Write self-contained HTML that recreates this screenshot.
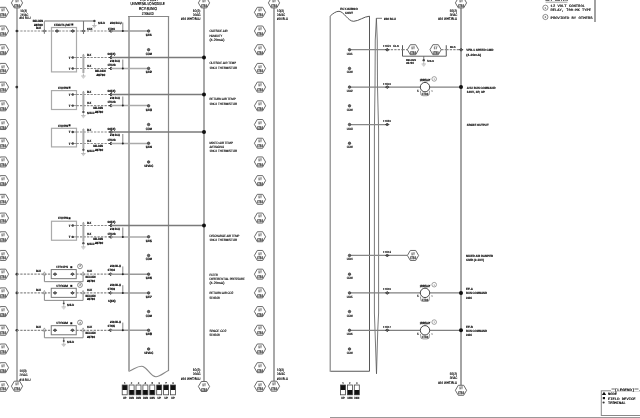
<!DOCTYPE html>
<html><head><meta charset="utf-8"><style>
html,body{margin:0;padding:0;background:#fff;width:640px;height:418px;overflow:hidden}
svg{display:block;will-change:transform} text{text-rendering:geometricPrecision}

</style></head><body>
<svg width="640" height="418" viewBox="0 0 640 418" font-family="Liberation Sans, sans-serif">
<rect width="640" height="418" fill="#fff"/>
<polygon points="-2.60,12.30 0.30,7.30 5.70,7.30 8.60,12.30 5.70,17.30 0.30,17.30 -2.60,12.30" stroke="#5a5a5a" stroke-width="0.9" fill="#fff"/>
<text x="3.00" y="11.40" font-size="3.4" font-weight="bold" fill="#777" stroke="#777" stroke-width="0.3" text-anchor="middle" textLength="3.60" lengthAdjust="spacingAndGlyphs">1T</text>
<text x="3.00" y="16.30" font-size="3.6" font-weight="bold" fill="#444" stroke="#444" stroke-width="0.25" text-anchor="middle" textLength="6.20" lengthAdjust="spacingAndGlyphs">1TB3</text>
<polygon points="254.40,12.30 257.30,7.30 262.70,7.30 265.60,12.30 262.70,17.30 257.30,17.30 254.40,12.30" stroke="#5a5a5a" stroke-width="0.9" fill="#fff"/>
<text x="260.00" y="11.40" font-size="3.4" font-weight="bold" fill="#777" stroke="#777" stroke-width="0.3" text-anchor="middle" textLength="3.60" lengthAdjust="spacingAndGlyphs">1T</text>
<text x="260.00" y="16.30" font-size="3.6" font-weight="bold" fill="#444" stroke="#444" stroke-width="0.25" text-anchor="middle" textLength="6.20" lengthAdjust="spacingAndGlyphs">1TB3</text>
<polygon points="-2.60,31.00 0.30,26.00 5.70,26.00 8.60,31.00 5.70,36.00 0.30,36.00 -2.60,31.00" stroke="#5a5a5a" stroke-width="0.9" fill="#fff"/>
<text x="3.00" y="30.11" font-size="3.4" font-weight="bold" fill="#777" stroke="#777" stroke-width="0.3" text-anchor="middle" textLength="3.60" lengthAdjust="spacingAndGlyphs">1T</text>
<text x="3.00" y="35.00" font-size="3.6" font-weight="bold" fill="#444" stroke="#444" stroke-width="0.25" text-anchor="middle" textLength="6.20" lengthAdjust="spacingAndGlyphs">1TB3</text>
<polygon points="254.40,31.00 257.30,26.00 262.70,26.00 265.60,31.00 262.70,36.00 257.30,36.00 254.40,31.00" stroke="#5a5a5a" stroke-width="0.9" fill="#fff"/>
<text x="260.00" y="30.11" font-size="3.4" font-weight="bold" fill="#777" stroke="#777" stroke-width="0.3" text-anchor="middle" textLength="3.60" lengthAdjust="spacingAndGlyphs">1T</text>
<text x="260.00" y="35.00" font-size="3.6" font-weight="bold" fill="#444" stroke="#444" stroke-width="0.25" text-anchor="middle" textLength="6.20" lengthAdjust="spacingAndGlyphs">1TB3</text>
<polygon points="-2.60,49.71 0.30,44.71 5.70,44.71 8.60,49.71 5.70,54.71 0.30,54.71 -2.60,49.71" stroke="#5a5a5a" stroke-width="0.9" fill="#fff"/>
<text x="3.00" y="48.81" font-size="3.4" font-weight="bold" fill="#777" stroke="#777" stroke-width="0.3" text-anchor="middle" textLength="3.60" lengthAdjust="spacingAndGlyphs">1T</text>
<text x="3.00" y="53.71" font-size="3.6" font-weight="bold" fill="#444" stroke="#444" stroke-width="0.25" text-anchor="middle" textLength="6.20" lengthAdjust="spacingAndGlyphs">1TB3</text>
<polygon points="254.40,49.71 257.30,44.71 262.70,44.71 265.60,49.71 262.70,54.71 257.30,54.71 254.40,49.71" stroke="#5a5a5a" stroke-width="0.9" fill="#fff"/>
<text x="260.00" y="48.81" font-size="3.4" font-weight="bold" fill="#777" stroke="#777" stroke-width="0.3" text-anchor="middle" textLength="3.60" lengthAdjust="spacingAndGlyphs">1T</text>
<text x="260.00" y="53.71" font-size="3.6" font-weight="bold" fill="#444" stroke="#444" stroke-width="0.25" text-anchor="middle" textLength="6.20" lengthAdjust="spacingAndGlyphs">1TB3</text>
<polygon points="-2.60,68.41 0.30,63.41 5.70,63.41 8.60,68.41 5.70,73.41 0.30,73.41 -2.60,68.41" stroke="#5a5a5a" stroke-width="0.9" fill="#fff"/>
<text x="3.00" y="67.51" font-size="3.4" font-weight="bold" fill="#777" stroke="#777" stroke-width="0.3" text-anchor="middle" textLength="3.60" lengthAdjust="spacingAndGlyphs">1T</text>
<text x="3.00" y="72.41" font-size="3.6" font-weight="bold" fill="#444" stroke="#444" stroke-width="0.25" text-anchor="middle" textLength="6.20" lengthAdjust="spacingAndGlyphs">1TB3</text>
<polygon points="254.40,68.41 257.30,63.41 262.70,63.41 265.60,68.41 262.70,73.41 257.30,73.41 254.40,68.41" stroke="#5a5a5a" stroke-width="0.9" fill="#fff"/>
<text x="260.00" y="67.51" font-size="3.4" font-weight="bold" fill="#777" stroke="#777" stroke-width="0.3" text-anchor="middle" textLength="3.60" lengthAdjust="spacingAndGlyphs">1T</text>
<text x="260.00" y="72.41" font-size="3.6" font-weight="bold" fill="#444" stroke="#444" stroke-width="0.25" text-anchor="middle" textLength="6.20" lengthAdjust="spacingAndGlyphs">1TB3</text>
<polygon points="-2.60,87.12 0.30,82.12 5.70,82.12 8.60,87.12 5.70,92.12 0.30,92.12 -2.60,87.12" stroke="#5a5a5a" stroke-width="0.9" fill="#fff"/>
<text x="3.00" y="86.22" font-size="3.4" font-weight="bold" fill="#777" stroke="#777" stroke-width="0.3" text-anchor="middle" textLength="3.60" lengthAdjust="spacingAndGlyphs">1T</text>
<text x="3.00" y="91.12" font-size="3.6" font-weight="bold" fill="#444" stroke="#444" stroke-width="0.25" text-anchor="middle" textLength="6.20" lengthAdjust="spacingAndGlyphs">1TB3</text>
<polygon points="254.40,87.12 257.30,82.12 262.70,82.12 265.60,87.12 262.70,92.12 257.30,92.12 254.40,87.12" stroke="#5a5a5a" stroke-width="0.9" fill="#fff"/>
<text x="260.00" y="86.22" font-size="3.4" font-weight="bold" fill="#777" stroke="#777" stroke-width="0.3" text-anchor="middle" textLength="3.60" lengthAdjust="spacingAndGlyphs">1T</text>
<text x="260.00" y="91.12" font-size="3.6" font-weight="bold" fill="#444" stroke="#444" stroke-width="0.25" text-anchor="middle" textLength="6.20" lengthAdjust="spacingAndGlyphs">1TB3</text>
<polygon points="-2.60,105.82 0.30,100.82 5.70,100.82 8.60,105.82 5.70,110.82 0.30,110.82 -2.60,105.82" stroke="#5a5a5a" stroke-width="0.9" fill="#fff"/>
<text x="3.00" y="104.92" font-size="3.4" font-weight="bold" fill="#777" stroke="#777" stroke-width="0.3" text-anchor="middle" textLength="3.60" lengthAdjust="spacingAndGlyphs">1T</text>
<text x="3.00" y="109.82" font-size="3.6" font-weight="bold" fill="#444" stroke="#444" stroke-width="0.25" text-anchor="middle" textLength="6.20" lengthAdjust="spacingAndGlyphs">1TB3</text>
<polygon points="254.40,105.82 257.30,100.82 262.70,100.82 265.60,105.82 262.70,110.82 257.30,110.82 254.40,105.82" stroke="#5a5a5a" stroke-width="0.9" fill="#fff"/>
<text x="260.00" y="104.92" font-size="3.4" font-weight="bold" fill="#777" stroke="#777" stroke-width="0.3" text-anchor="middle" textLength="3.60" lengthAdjust="spacingAndGlyphs">1T</text>
<text x="260.00" y="109.82" font-size="3.6" font-weight="bold" fill="#444" stroke="#444" stroke-width="0.25" text-anchor="middle" textLength="6.20" lengthAdjust="spacingAndGlyphs">1TB3</text>
<polygon points="-2.60,124.53 0.30,119.53 5.70,119.53 8.60,124.53 5.70,129.53 0.30,129.53 -2.60,124.53" stroke="#5a5a5a" stroke-width="0.9" fill="#fff"/>
<text x="3.00" y="123.63" font-size="3.4" font-weight="bold" fill="#777" stroke="#777" stroke-width="0.3" text-anchor="middle" textLength="3.60" lengthAdjust="spacingAndGlyphs">1T</text>
<text x="3.00" y="128.53" font-size="3.6" font-weight="bold" fill="#444" stroke="#444" stroke-width="0.25" text-anchor="middle" textLength="6.20" lengthAdjust="spacingAndGlyphs">1TB3</text>
<polygon points="254.40,124.53 257.30,119.53 262.70,119.53 265.60,124.53 262.70,129.53 257.30,129.53 254.40,124.53" stroke="#5a5a5a" stroke-width="0.9" fill="#fff"/>
<text x="260.00" y="123.63" font-size="3.4" font-weight="bold" fill="#777" stroke="#777" stroke-width="0.3" text-anchor="middle" textLength="3.60" lengthAdjust="spacingAndGlyphs">1T</text>
<text x="260.00" y="128.53" font-size="3.6" font-weight="bold" fill="#444" stroke="#444" stroke-width="0.25" text-anchor="middle" textLength="6.20" lengthAdjust="spacingAndGlyphs">1TB3</text>
<polygon points="-2.60,143.24 0.30,138.24 5.70,138.24 8.60,143.24 5.70,148.24 0.30,148.24 -2.60,143.24" stroke="#5a5a5a" stroke-width="0.9" fill="#fff"/>
<text x="3.00" y="142.34" font-size="3.4" font-weight="bold" fill="#777" stroke="#777" stroke-width="0.3" text-anchor="middle" textLength="3.60" lengthAdjust="spacingAndGlyphs">1T</text>
<text x="3.00" y="147.24" font-size="3.6" font-weight="bold" fill="#444" stroke="#444" stroke-width="0.25" text-anchor="middle" textLength="6.20" lengthAdjust="spacingAndGlyphs">1TB3</text>
<polygon points="254.40,143.24 257.30,138.24 262.70,138.24 265.60,143.24 262.70,148.24 257.30,148.24 254.40,143.24" stroke="#5a5a5a" stroke-width="0.9" fill="#fff"/>
<text x="260.00" y="142.34" font-size="3.4" font-weight="bold" fill="#777" stroke="#777" stroke-width="0.3" text-anchor="middle" textLength="3.60" lengthAdjust="spacingAndGlyphs">1T</text>
<text x="260.00" y="147.24" font-size="3.6" font-weight="bold" fill="#444" stroke="#444" stroke-width="0.25" text-anchor="middle" textLength="6.20" lengthAdjust="spacingAndGlyphs">1TB3</text>
<polygon points="-2.60,161.94 0.30,156.94 5.70,156.94 8.60,161.94 5.70,166.94 0.30,166.94 -2.60,161.94" stroke="#5a5a5a" stroke-width="0.9" fill="#fff"/>
<text x="3.00" y="161.04" font-size="3.4" font-weight="bold" fill="#777" stroke="#777" stroke-width="0.3" text-anchor="middle" textLength="3.60" lengthAdjust="spacingAndGlyphs">1T</text>
<text x="3.00" y="165.94" font-size="3.6" font-weight="bold" fill="#444" stroke="#444" stroke-width="0.25" text-anchor="middle" textLength="6.20" lengthAdjust="spacingAndGlyphs">1TB3</text>
<polygon points="254.40,161.94 257.30,156.94 262.70,156.94 265.60,161.94 262.70,166.94 257.30,166.94 254.40,161.94" stroke="#5a5a5a" stroke-width="0.9" fill="#fff"/>
<text x="260.00" y="161.04" font-size="3.4" font-weight="bold" fill="#777" stroke="#777" stroke-width="0.3" text-anchor="middle" textLength="3.60" lengthAdjust="spacingAndGlyphs">1T</text>
<text x="260.00" y="165.94" font-size="3.6" font-weight="bold" fill="#444" stroke="#444" stroke-width="0.25" text-anchor="middle" textLength="6.20" lengthAdjust="spacingAndGlyphs">1TB3</text>
<polygon points="-2.60,180.64 0.30,175.64 5.70,175.64 8.60,180.64 5.70,185.64 0.30,185.64 -2.60,180.64" stroke="#5a5a5a" stroke-width="0.9" fill="#fff"/>
<text x="3.00" y="179.74" font-size="3.4" font-weight="bold" fill="#777" stroke="#777" stroke-width="0.3" text-anchor="middle" textLength="3.60" lengthAdjust="spacingAndGlyphs">1T</text>
<text x="3.00" y="184.64" font-size="3.6" font-weight="bold" fill="#444" stroke="#444" stroke-width="0.25" text-anchor="middle" textLength="6.20" lengthAdjust="spacingAndGlyphs">1TB3</text>
<polygon points="254.40,180.64 257.30,175.64 262.70,175.64 265.60,180.64 262.70,185.64 257.30,185.64 254.40,180.64" stroke="#5a5a5a" stroke-width="0.9" fill="#fff"/>
<text x="260.00" y="179.74" font-size="3.4" font-weight="bold" fill="#777" stroke="#777" stroke-width="0.3" text-anchor="middle" textLength="3.60" lengthAdjust="spacingAndGlyphs">1T</text>
<text x="260.00" y="184.64" font-size="3.6" font-weight="bold" fill="#444" stroke="#444" stroke-width="0.25" text-anchor="middle" textLength="6.20" lengthAdjust="spacingAndGlyphs">1TB3</text>
<polygon points="-2.60,199.35 0.30,194.35 5.70,194.35 8.60,199.35 5.70,204.35 0.30,204.35 -2.60,199.35" stroke="#5a5a5a" stroke-width="0.9" fill="#fff"/>
<text x="3.00" y="198.45" font-size="3.4" font-weight="bold" fill="#777" stroke="#777" stroke-width="0.3" text-anchor="middle" textLength="3.60" lengthAdjust="spacingAndGlyphs">1T</text>
<text x="3.00" y="203.35" font-size="3.6" font-weight="bold" fill="#444" stroke="#444" stroke-width="0.25" text-anchor="middle" textLength="6.20" lengthAdjust="spacingAndGlyphs">1TB3</text>
<polygon points="254.40,199.35 257.30,194.35 262.70,194.35 265.60,199.35 262.70,204.35 257.30,204.35 254.40,199.35" stroke="#5a5a5a" stroke-width="0.9" fill="#fff"/>
<text x="260.00" y="198.45" font-size="3.4" font-weight="bold" fill="#777" stroke="#777" stroke-width="0.3" text-anchor="middle" textLength="3.60" lengthAdjust="spacingAndGlyphs">1T</text>
<text x="260.00" y="203.35" font-size="3.6" font-weight="bold" fill="#444" stroke="#444" stroke-width="0.25" text-anchor="middle" textLength="6.20" lengthAdjust="spacingAndGlyphs">1TB3</text>
<polygon points="-2.60,218.06 0.30,213.06 5.70,213.06 8.60,218.06 5.70,223.06 0.30,223.06 -2.60,218.06" stroke="#5a5a5a" stroke-width="0.9" fill="#fff"/>
<text x="3.00" y="217.16" font-size="3.4" font-weight="bold" fill="#777" stroke="#777" stroke-width="0.3" text-anchor="middle" textLength="3.60" lengthAdjust="spacingAndGlyphs">1T</text>
<text x="3.00" y="222.06" font-size="3.6" font-weight="bold" fill="#444" stroke="#444" stroke-width="0.25" text-anchor="middle" textLength="6.20" lengthAdjust="spacingAndGlyphs">1TB3</text>
<polygon points="254.40,218.06 257.30,213.06 262.70,213.06 265.60,218.06 262.70,223.06 257.30,223.06 254.40,218.06" stroke="#5a5a5a" stroke-width="0.9" fill="#fff"/>
<text x="260.00" y="217.16" font-size="3.4" font-weight="bold" fill="#777" stroke="#777" stroke-width="0.3" text-anchor="middle" textLength="3.60" lengthAdjust="spacingAndGlyphs">1T</text>
<text x="260.00" y="222.06" font-size="3.6" font-weight="bold" fill="#444" stroke="#444" stroke-width="0.25" text-anchor="middle" textLength="6.20" lengthAdjust="spacingAndGlyphs">1TB3</text>
<polygon points="-2.60,236.76 0.30,231.76 5.70,231.76 8.60,236.76 5.70,241.76 0.30,241.76 -2.60,236.76" stroke="#5a5a5a" stroke-width="0.9" fill="#fff"/>
<text x="3.00" y="235.86" font-size="3.4" font-weight="bold" fill="#777" stroke="#777" stroke-width="0.3" text-anchor="middle" textLength="3.60" lengthAdjust="spacingAndGlyphs">1T</text>
<text x="3.00" y="240.76" font-size="3.6" font-weight="bold" fill="#444" stroke="#444" stroke-width="0.25" text-anchor="middle" textLength="6.20" lengthAdjust="spacingAndGlyphs">1TB3</text>
<polygon points="254.40,236.76 257.30,231.76 262.70,231.76 265.60,236.76 262.70,241.76 257.30,241.76 254.40,236.76" stroke="#5a5a5a" stroke-width="0.9" fill="#fff"/>
<text x="260.00" y="235.86" font-size="3.4" font-weight="bold" fill="#777" stroke="#777" stroke-width="0.3" text-anchor="middle" textLength="3.60" lengthAdjust="spacingAndGlyphs">1T</text>
<text x="260.00" y="240.76" font-size="3.6" font-weight="bold" fill="#444" stroke="#444" stroke-width="0.25" text-anchor="middle" textLength="6.20" lengthAdjust="spacingAndGlyphs">1TB3</text>
<polygon points="-2.60,255.46 0.30,250.46 5.70,250.46 8.60,255.46 5.70,260.46 0.30,260.46 -2.60,255.46" stroke="#5a5a5a" stroke-width="0.9" fill="#fff"/>
<text x="3.00" y="254.56" font-size="3.4" font-weight="bold" fill="#777" stroke="#777" stroke-width="0.3" text-anchor="middle" textLength="3.60" lengthAdjust="spacingAndGlyphs">1T</text>
<text x="3.00" y="259.46" font-size="3.6" font-weight="bold" fill="#444" stroke="#444" stroke-width="0.25" text-anchor="middle" textLength="6.20" lengthAdjust="spacingAndGlyphs">1TB3</text>
<polygon points="254.40,255.46 257.30,250.46 262.70,250.46 265.60,255.46 262.70,260.46 257.30,260.46 254.40,255.46" stroke="#5a5a5a" stroke-width="0.9" fill="#fff"/>
<text x="260.00" y="254.56" font-size="3.4" font-weight="bold" fill="#777" stroke="#777" stroke-width="0.3" text-anchor="middle" textLength="3.60" lengthAdjust="spacingAndGlyphs">1T</text>
<text x="260.00" y="259.46" font-size="3.6" font-weight="bold" fill="#444" stroke="#444" stroke-width="0.25" text-anchor="middle" textLength="6.20" lengthAdjust="spacingAndGlyphs">1TB3</text>
<polygon points="-2.60,274.17 0.30,269.17 5.70,269.17 8.60,274.17 5.70,279.17 0.30,279.17 -2.60,274.17" stroke="#5a5a5a" stroke-width="0.9" fill="#fff"/>
<text x="3.00" y="273.27" font-size="3.4" font-weight="bold" fill="#777" stroke="#777" stroke-width="0.3" text-anchor="middle" textLength="3.60" lengthAdjust="spacingAndGlyphs">1T</text>
<text x="3.00" y="278.17" font-size="3.6" font-weight="bold" fill="#444" stroke="#444" stroke-width="0.25" text-anchor="middle" textLength="6.20" lengthAdjust="spacingAndGlyphs">1TB3</text>
<polygon points="254.40,274.17 257.30,269.17 262.70,269.17 265.60,274.17 262.70,279.17 257.30,279.17 254.40,274.17" stroke="#5a5a5a" stroke-width="0.9" fill="#fff"/>
<text x="260.00" y="273.27" font-size="3.4" font-weight="bold" fill="#777" stroke="#777" stroke-width="0.3" text-anchor="middle" textLength="3.60" lengthAdjust="spacingAndGlyphs">1T</text>
<text x="260.00" y="278.17" font-size="3.6" font-weight="bold" fill="#444" stroke="#444" stroke-width="0.25" text-anchor="middle" textLength="6.20" lengthAdjust="spacingAndGlyphs">1TB3</text>
<polygon points="-2.60,292.88 0.30,287.88 5.70,287.88 8.60,292.88 5.70,297.88 0.30,297.88 -2.60,292.88" stroke="#5a5a5a" stroke-width="0.9" fill="#fff"/>
<text x="3.00" y="291.98" font-size="3.4" font-weight="bold" fill="#777" stroke="#777" stroke-width="0.3" text-anchor="middle" textLength="3.60" lengthAdjust="spacingAndGlyphs">1T</text>
<text x="3.00" y="296.88" font-size="3.6" font-weight="bold" fill="#444" stroke="#444" stroke-width="0.25" text-anchor="middle" textLength="6.20" lengthAdjust="spacingAndGlyphs">1TB3</text>
<polygon points="254.40,292.88 257.30,287.88 262.70,287.88 265.60,292.88 262.70,297.88 257.30,297.88 254.40,292.88" stroke="#5a5a5a" stroke-width="0.9" fill="#fff"/>
<text x="260.00" y="291.98" font-size="3.4" font-weight="bold" fill="#777" stroke="#777" stroke-width="0.3" text-anchor="middle" textLength="3.60" lengthAdjust="spacingAndGlyphs">1T</text>
<text x="260.00" y="296.88" font-size="3.6" font-weight="bold" fill="#444" stroke="#444" stroke-width="0.25" text-anchor="middle" textLength="6.20" lengthAdjust="spacingAndGlyphs">1TB3</text>
<polygon points="-2.60,311.58 0.30,306.58 5.70,306.58 8.60,311.58 5.70,316.58 0.30,316.58 -2.60,311.58" stroke="#5a5a5a" stroke-width="0.9" fill="#fff"/>
<text x="3.00" y="310.68" font-size="3.4" font-weight="bold" fill="#777" stroke="#777" stroke-width="0.3" text-anchor="middle" textLength="3.60" lengthAdjust="spacingAndGlyphs">1T</text>
<text x="3.00" y="315.58" font-size="3.6" font-weight="bold" fill="#444" stroke="#444" stroke-width="0.25" text-anchor="middle" textLength="6.20" lengthAdjust="spacingAndGlyphs">1TB3</text>
<polygon points="254.40,311.58 257.30,306.58 262.70,306.58 265.60,311.58 262.70,316.58 257.30,316.58 254.40,311.58" stroke="#5a5a5a" stroke-width="0.9" fill="#fff"/>
<text x="260.00" y="310.68" font-size="3.4" font-weight="bold" fill="#777" stroke="#777" stroke-width="0.3" text-anchor="middle" textLength="3.60" lengthAdjust="spacingAndGlyphs">1T</text>
<text x="260.00" y="315.58" font-size="3.6" font-weight="bold" fill="#444" stroke="#444" stroke-width="0.25" text-anchor="middle" textLength="6.20" lengthAdjust="spacingAndGlyphs">1TB3</text>
<polygon points="-2.60,330.28 0.30,325.28 5.70,325.28 8.60,330.28 5.70,335.28 0.30,335.28 -2.60,330.28" stroke="#5a5a5a" stroke-width="0.9" fill="#fff"/>
<text x="3.00" y="329.38" font-size="3.4" font-weight="bold" fill="#777" stroke="#777" stroke-width="0.3" text-anchor="middle" textLength="3.60" lengthAdjust="spacingAndGlyphs">1T</text>
<text x="3.00" y="334.28" font-size="3.6" font-weight="bold" fill="#444" stroke="#444" stroke-width="0.25" text-anchor="middle" textLength="6.20" lengthAdjust="spacingAndGlyphs">1TB3</text>
<polygon points="254.40,330.28 257.30,325.28 262.70,325.28 265.60,330.28 262.70,335.28 257.30,335.28 254.40,330.28" stroke="#5a5a5a" stroke-width="0.9" fill="#fff"/>
<text x="260.00" y="329.38" font-size="3.4" font-weight="bold" fill="#777" stroke="#777" stroke-width="0.3" text-anchor="middle" textLength="3.60" lengthAdjust="spacingAndGlyphs">1T</text>
<text x="260.00" y="334.28" font-size="3.6" font-weight="bold" fill="#444" stroke="#444" stroke-width="0.25" text-anchor="middle" textLength="6.20" lengthAdjust="spacingAndGlyphs">1TB3</text>
<polygon points="-2.60,348.99 0.30,343.99 5.70,343.99 8.60,348.99 5.70,353.99 0.30,353.99 -2.60,348.99" stroke="#5a5a5a" stroke-width="0.9" fill="#fff"/>
<text x="3.00" y="348.09" font-size="3.4" font-weight="bold" fill="#777" stroke="#777" stroke-width="0.3" text-anchor="middle" textLength="3.60" lengthAdjust="spacingAndGlyphs">1T</text>
<text x="3.00" y="352.99" font-size="3.6" font-weight="bold" fill="#444" stroke="#444" stroke-width="0.25" text-anchor="middle" textLength="6.20" lengthAdjust="spacingAndGlyphs">1TB3</text>
<polygon points="254.40,348.99 257.30,343.99 262.70,343.99 265.60,348.99 262.70,353.99 257.30,353.99 254.40,348.99" stroke="#5a5a5a" stroke-width="0.9" fill="#fff"/>
<text x="260.00" y="348.09" font-size="3.4" font-weight="bold" fill="#777" stroke="#777" stroke-width="0.3" text-anchor="middle" textLength="3.60" lengthAdjust="spacingAndGlyphs">1T</text>
<text x="260.00" y="352.99" font-size="3.6" font-weight="bold" fill="#444" stroke="#444" stroke-width="0.25" text-anchor="middle" textLength="6.20" lengthAdjust="spacingAndGlyphs">1TB3</text>
<polygon points="-2.60,367.69 0.30,362.69 5.70,362.69 8.60,367.69 5.70,372.69 0.30,372.69 -2.60,367.69" stroke="#5a5a5a" stroke-width="0.9" fill="#fff"/>
<text x="3.00" y="366.80" font-size="3.4" font-weight="bold" fill="#777" stroke="#777" stroke-width="0.3" text-anchor="middle" textLength="3.60" lengthAdjust="spacingAndGlyphs">1T</text>
<text x="3.00" y="371.69" font-size="3.6" font-weight="bold" fill="#444" stroke="#444" stroke-width="0.25" text-anchor="middle" textLength="6.20" lengthAdjust="spacingAndGlyphs">1TB3</text>
<polygon points="254.40,367.69 257.30,362.69 262.70,362.69 265.60,367.69 262.70,372.69 257.30,372.69 254.40,367.69" stroke="#5a5a5a" stroke-width="0.9" fill="#fff"/>
<text x="260.00" y="366.80" font-size="3.4" font-weight="bold" fill="#777" stroke="#777" stroke-width="0.3" text-anchor="middle" textLength="3.60" lengthAdjust="spacingAndGlyphs">1T</text>
<text x="260.00" y="371.69" font-size="3.6" font-weight="bold" fill="#444" stroke="#444" stroke-width="0.25" text-anchor="middle" textLength="6.20" lengthAdjust="spacingAndGlyphs">1TB3</text>
<polygon points="-2.60,386.40 0.30,381.40 5.70,381.40 8.60,386.40 5.70,391.40 0.30,391.40 -2.60,386.40" stroke="#5a5a5a" stroke-width="0.9" fill="#fff"/>
<text x="3.00" y="385.50" font-size="3.4" font-weight="bold" fill="#777" stroke="#777" stroke-width="0.3" text-anchor="middle" textLength="3.60" lengthAdjust="spacingAndGlyphs">1T</text>
<text x="3.00" y="390.40" font-size="3.6" font-weight="bold" fill="#444" stroke="#444" stroke-width="0.25" text-anchor="middle" textLength="6.20" lengthAdjust="spacingAndGlyphs">1TB3</text>
<polygon points="254.40,386.40 257.30,381.40 262.70,381.40 265.60,386.40 262.70,391.40 257.30,391.40 254.40,386.40" stroke="#5a5a5a" stroke-width="0.9" fill="#fff"/>
<text x="260.00" y="385.50" font-size="3.4" font-weight="bold" fill="#777" stroke="#777" stroke-width="0.3" text-anchor="middle" textLength="3.60" lengthAdjust="spacingAndGlyphs">1T</text>
<text x="260.00" y="390.40" font-size="3.6" font-weight="bold" fill="#444" stroke="#444" stroke-width="0.25" text-anchor="middle" textLength="6.20" lengthAdjust="spacingAndGlyphs">1TB3</text>
<line x1="17.00" y1="8.00" x2="17.00" y2="381.20" stroke="#b0b0b0" stroke-width="2.0"/>
<polygon points="11.40,2.90 14.30,-2.10 19.70,-2.10 22.60,2.90 19.70,7.90 14.30,7.90 11.40,2.90" stroke="#5a5a5a" stroke-width="0.9" fill="#fff"/>
<text x="17.00" y="2.00" font-size="3.4" font-weight="bold" fill="#777" stroke="#777" stroke-width="0.3" text-anchor="middle" textLength="3.60" lengthAdjust="spacingAndGlyphs">1T</text>
<text x="17.00" y="6.90" font-size="3.6" font-weight="bold" fill="#444" stroke="#444" stroke-width="0.25" text-anchor="middle" textLength="6.20" lengthAdjust="spacingAndGlyphs">1TB3</text>
<polygon points="11.40,386.20 14.30,381.20 19.70,381.20 22.60,386.20 19.70,391.20 14.30,391.20 11.40,386.20" stroke="#5a5a5a" stroke-width="0.9" fill="#fff"/>
<text x="17.00" y="385.30" font-size="3.4" font-weight="bold" fill="#777" stroke="#777" stroke-width="0.3" text-anchor="middle" textLength="3.60" lengthAdjust="spacingAndGlyphs">1T</text>
<text x="17.00" y="390.20" font-size="3.6" font-weight="bold" fill="#444" stroke="#444" stroke-width="0.25" text-anchor="middle" textLength="6.20" lengthAdjust="spacingAndGlyphs">1TB3</text>
<line x1="204.00" y1="8.00" x2="204.00" y2="381.50" stroke="#a8a8a8" stroke-width="2.0"/>
<polygon points="198.40,2.90 201.30,-2.10 206.70,-2.10 209.60,2.90 206.70,7.90 201.30,7.90 198.40,2.90" stroke="#5a5a5a" stroke-width="0.9" fill="#fff"/>
<text x="204.00" y="2.00" font-size="3.4" font-weight="bold" fill="#777" stroke="#777" stroke-width="0.3" text-anchor="middle" textLength="3.60" lengthAdjust="spacingAndGlyphs">1T</text>
<text x="204.00" y="6.90" font-size="3.6" font-weight="bold" fill="#444" stroke="#444" stroke-width="0.25" text-anchor="middle" textLength="6.20" lengthAdjust="spacingAndGlyphs">1TB3</text>
<polygon points="198.40,386.50 201.30,381.50 206.70,381.50 209.60,386.50 206.70,391.50 201.30,391.50 198.40,386.50" stroke="#5a5a5a" stroke-width="0.9" fill="#fff"/>
<text x="204.00" y="385.60" font-size="3.4" font-weight="bold" fill="#777" stroke="#777" stroke-width="0.3" text-anchor="middle" textLength="3.60" lengthAdjust="spacingAndGlyphs">1T</text>
<text x="204.00" y="390.50" font-size="3.6" font-weight="bold" fill="#444" stroke="#444" stroke-width="0.25" text-anchor="middle" textLength="6.20" lengthAdjust="spacingAndGlyphs">1TB3</text>
<line x1="274.00" y1="8.00" x2="274.00" y2="381.20" stroke="#a8a8a8" stroke-width="2.0"/>
<polygon points="268.40,2.90 271.30,-2.10 276.70,-2.10 279.60,2.90 276.70,7.90 271.30,7.90 268.40,2.90" stroke="#5a5a5a" stroke-width="0.9" fill="#fff"/>
<text x="274.00" y="2.00" font-size="3.4" font-weight="bold" fill="#777" stroke="#777" stroke-width="0.3" text-anchor="middle" textLength="3.60" lengthAdjust="spacingAndGlyphs">1T</text>
<text x="274.00" y="6.90" font-size="3.6" font-weight="bold" fill="#444" stroke="#444" stroke-width="0.25" text-anchor="middle" textLength="6.20" lengthAdjust="spacingAndGlyphs">1TB3</text>
<polygon points="268.40,386.20 271.30,381.20 276.70,381.20 279.60,386.20 276.70,391.20 271.30,391.20 268.40,386.20" stroke="#5a5a5a" stroke-width="0.9" fill="#fff"/>
<text x="274.00" y="385.30" font-size="3.4" font-weight="bold" fill="#777" stroke="#777" stroke-width="0.3" text-anchor="middle" textLength="3.60" lengthAdjust="spacingAndGlyphs">1T</text>
<text x="274.00" y="390.20" font-size="3.6" font-weight="bold" fill="#444" stroke="#444" stroke-width="0.25" text-anchor="middle" textLength="6.20" lengthAdjust="spacingAndGlyphs">1TB3</text>
<line x1="461.00" y1="8.00" x2="461.00" y2="385.30" stroke="#a4a4a4" stroke-width="2.0"/>
<polygon points="455.40,2.90 458.30,-2.10 463.70,-2.10 466.60,2.90 463.70,7.90 458.30,7.90 455.40,2.90" stroke="#5a5a5a" stroke-width="0.9" fill="#fff"/>
<text x="461.00" y="2.00" font-size="3.4" font-weight="bold" fill="#777" stroke="#777" stroke-width="0.3" text-anchor="middle" textLength="3.60" lengthAdjust="spacingAndGlyphs">1T</text>
<text x="461.00" y="6.90" font-size="3.6" font-weight="bold" fill="#444" stroke="#444" stroke-width="0.25" text-anchor="middle" textLength="6.20" lengthAdjust="spacingAndGlyphs">1TB3</text>
<polygon points="455.40,390.30 458.30,385.30 463.70,385.30 466.60,390.30 463.70,395.30 458.30,395.30 455.40,390.30" stroke="#5a5a5a" stroke-width="0.9" fill="#fff"/>
<text x="461.00" y="389.40" font-size="3.4" font-weight="bold" fill="#777" stroke="#777" stroke-width="0.3" text-anchor="middle" textLength="3.60" lengthAdjust="spacingAndGlyphs">1T</text>
<text x="461.00" y="394.30" font-size="3.6" font-weight="bold" fill="#444" stroke="#444" stroke-width="0.25" text-anchor="middle" textLength="6.20" lengthAdjust="spacingAndGlyphs">1TB3</text>
<text x="20.30" y="11.80" font-size="3.4" font-weight="normal" fill="#000" stroke="#000" stroke-width="0.16" textLength="6.60" lengthAdjust="spacingAndGlyphs">10(3)</text>
<text x="20.30" y="15.50" font-size="3.4" font-weight="normal" fill="#000" stroke="#000" stroke-width="0.16" textLength="8.10" lengthAdjust="spacingAndGlyphs">24VAC</text>
<text x="19.40" y="19.20" font-size="3.4" font-weight="normal" fill="#000" stroke="#000" stroke-width="0.16" textLength="11.20" lengthAdjust="spacingAndGlyphs">#16 BLU</text>
<circle cx="16.80" cy="87.12" r="1.4" fill="#333"/>
<text x="19.60" y="372.00" font-size="3.4" font-weight="normal" fill="#000" stroke="#000" stroke-width="0.16" textLength="7.00" lengthAdjust="spacingAndGlyphs">10(3)</text>
<text x="19.60" y="376.40" font-size="3.4" font-weight="normal" fill="#000" stroke="#000" stroke-width="0.16" textLength="8.00" lengthAdjust="spacingAndGlyphs">24VAC</text>
<text x="19.60" y="381.00" font-size="3.4" font-weight="normal" fill="#000" stroke="#000" stroke-width="0.16" textLength="11.00" lengthAdjust="spacingAndGlyphs">#16 BLU</text>
<text x="200.50" y="11.90" font-size="3.5" font-weight="normal" fill="#000" stroke="#000" stroke-width="0.16" text-anchor="end" textLength="7.80" lengthAdjust="spacingAndGlyphs">10(2)</text>
<text x="200.50" y="15.60" font-size="3.5" font-weight="normal" fill="#000" stroke="#000" stroke-width="0.16" text-anchor="end" textLength="7.50" lengthAdjust="spacingAndGlyphs">24VAC</text>
<text x="200.50" y="20.40" font-size="3.5" font-weight="normal" fill="#000" stroke="#000" stroke-width="0.16" text-anchor="end" textLength="19.40" lengthAdjust="spacingAndGlyphs">#16 WHT/BLU</text>
<text x="200.50" y="371.30" font-size="3.5" font-weight="normal" fill="#000" stroke="#000" stroke-width="0.16" text-anchor="end" textLength="7.80" lengthAdjust="spacingAndGlyphs">10(2)</text>
<text x="200.50" y="375.20" font-size="3.5" font-weight="normal" fill="#000" stroke="#000" stroke-width="0.16" text-anchor="end" textLength="7.50" lengthAdjust="spacingAndGlyphs">24VAC</text>
<text x="200.50" y="380.30" font-size="3.5" font-weight="normal" fill="#000" stroke="#000" stroke-width="0.16" text-anchor="end" textLength="19.40" lengthAdjust="spacingAndGlyphs">#16 WHT/BLU</text>
<text x="277.00" y="11.90" font-size="3.5" font-weight="normal" fill="#000" stroke="#000" stroke-width="0.16" textLength="7.00" lengthAdjust="spacingAndGlyphs">10(3)</text>
<text x="277.00" y="15.60" font-size="3.5" font-weight="normal" fill="#000" stroke="#000" stroke-width="0.16" textLength="8.00" lengthAdjust="spacingAndGlyphs">24VAC</text>
<text x="277.00" y="19.60" font-size="3.5" font-weight="normal" fill="#000" stroke="#000" stroke-width="0.16" textLength="11.00" lengthAdjust="spacingAndGlyphs">#16 BLU</text>
<text x="277.00" y="371.30" font-size="3.5" font-weight="normal" fill="#000" stroke="#000" stroke-width="0.16" textLength="7.00" lengthAdjust="spacingAndGlyphs">10(3)</text>
<text x="277.00" y="375.20" font-size="3.5" font-weight="normal" fill="#000" stroke="#000" stroke-width="0.16" textLength="8.00" lengthAdjust="spacingAndGlyphs">24VAC</text>
<text x="277.00" y="380.30" font-size="3.5" font-weight="normal" fill="#000" stroke="#000" stroke-width="0.16" textLength="11.00" lengthAdjust="spacingAndGlyphs">#16 BLU</text>
<text x="457.20" y="11.90" font-size="3.5" font-weight="normal" fill="#000" stroke="#000" stroke-width="0.16" text-anchor="end" textLength="7.80" lengthAdjust="spacingAndGlyphs">10(2)</text>
<text x="457.20" y="15.60" font-size="3.5" font-weight="normal" fill="#000" stroke="#000" stroke-width="0.16" text-anchor="end" textLength="7.50" lengthAdjust="spacingAndGlyphs">24VAC</text>
<text x="457.20" y="20.30" font-size="3.5" font-weight="normal" fill="#000" stroke="#000" stroke-width="0.16" text-anchor="end" textLength="19.00" lengthAdjust="spacingAndGlyphs">#16 WHT/BLU</text>
<text x="457.20" y="374.60" font-size="3.5" font-weight="normal" fill="#000" stroke="#000" stroke-width="0.16" text-anchor="end" textLength="7.80" lengthAdjust="spacingAndGlyphs">10(2)</text>
<text x="457.20" y="379.30" font-size="3.5" font-weight="normal" fill="#000" stroke="#000" stroke-width="0.16" text-anchor="end" textLength="7.50" lengthAdjust="spacingAndGlyphs">24VAC</text>
<text x="457.20" y="384.00" font-size="3.5" font-weight="normal" fill="#000" stroke="#000" stroke-width="0.16" text-anchor="end" textLength="19.00" lengthAdjust="spacingAndGlyphs">#16 WHT/BLU</text>
<path d="M129.0,371.2 C136,368 139,365 143,366.5 C148,368.5 151,377 156,376.8 C160,376.5 165,372 168.5,370.5" stroke="#888" stroke-width="1.1" fill="none"/>
<line x1="129.00" y1="16.00" x2="129.00" y2="371.50" stroke="#aaa" stroke-width="2.0"/>
<line x1="168.50" y1="16.00" x2="168.50" y2="371.00" stroke="#888" stroke-width="1.2"/>
<line x1="128.00" y1="16.50" x2="169.10" y2="16.50" stroke="#888" stroke-width="1.2"/>
<text x="147.60" y="5.00" font-size="4.2" font-weight="normal" fill="#000" stroke="#000" stroke-width="0.18" text-anchor="middle" textLength="34.30" lengthAdjust="spacingAndGlyphs">UNIVERSAL I/O MODULE</text>
<text x="148.00" y="10.00" font-size="4.2" font-weight="normal" fill="#000" stroke="#000" stroke-width="0.18" text-anchor="middle" textLength="18.00" lengthAdjust="spacingAndGlyphs">ECY-8UNIO</text>
<text x="147.70" y="14.50" font-size="4.0" font-weight="normal" fill="#000" stroke="#000" stroke-width="0.18" text-anchor="middle" textLength="11.70" lengthAdjust="spacingAndGlyphs">1TXBAXD</text>
<text x="149.00" y="0.90" font-size="4.0" font-weight="normal" fill="#000" stroke="#000" stroke-width="0.18" text-anchor="middle" textLength="18.00" lengthAdjust="spacingAndGlyphs">1 OF 2 CONT</text>
<path d="M330.25,16 C333,13.5 336,11.2 339,11.3 C344,11.5 348,21.5 353.7,21.3 C359,21 364,16.5 369.5,16.2 L369.5,371.25 L330.25,371.25" stroke="#444" stroke-width="0.9" fill="none"/>
<line x1="330.25" y1="16.00" x2="330.25" y2="371.70" stroke="#999" stroke-width="1.4"/>
<text x="349.00" y="9.80" font-size="3.2" font-weight="bold" fill="#000" stroke="#000" stroke-width="0.12" text-anchor="middle" textLength="17.50" lengthAdjust="spacingAndGlyphs">ECY-8URGO</text>
<text x="349.00" y="13.80" font-size="3.2" font-weight="bold" fill="#000" stroke="#000" stroke-width="0.12" text-anchor="middle" textLength="8.00" lengthAdjust="spacingAndGlyphs">CONT</text>
<path d="M382,18.3 L376.4,18.3 L375.25,40 L375.0,87 L374.4,130 L374.4,313 L375,330 L376.5,373.8 L377.75,330 L378.6,313 L378.6,130 L377.5,87 L377.25,40 L376.4,18.3" stroke="#555" stroke-width="0.8" fill="none" stroke-linejoin="round"/>
<text x="384.00" y="20.30" font-size="3.2" font-weight="bold" fill="#000" stroke="#000" stroke-width="0.12" textLength="12.00" lengthAdjust="spacingAndGlyphs">#16 BLU</text>
<line x1="349.50" y1="49.71" x2="387.25" y2="49.71" stroke="#888" stroke-width="1.2"/>
<line x1="387.25" y1="49.71" x2="402.50" y2="49.71" stroke="#8a8a8a" stroke-width="1.2" stroke-dasharray="2.3,1.2"/>
<line x1="402.50" y1="45.21" x2="402.50" y2="56.21" stroke="#555" stroke-width="1.0"/>
<line x1="446.25" y1="45.21" x2="446.25" y2="56.21" stroke="#555" stroke-width="1.0"/>
<line x1="402.50" y1="56.21" x2="446.25" y2="56.21" stroke="#555" stroke-width="0.9"/>
<line x1="402.50" y1="49.71" x2="407.40" y2="49.71" stroke="#8a8a8a" stroke-width="1.2" stroke-dasharray="2.3,1.2"/>
<line x1="441.20" y1="49.71" x2="446.25" y2="49.71" stroke="#8a8a8a" stroke-width="1.2" stroke-dasharray="2.3,1.2"/>
<polygon points="407.40,49.71 410.30,44.71 415.70,44.71 418.60,49.71 415.70,54.71 410.30,54.71 407.40,49.71" stroke="#5a5a5a" stroke-width="0.9" fill="#fff"/>
<text x="413.00" y="48.81" font-size="3.4" font-weight="bold" fill="#777" stroke="#777" stroke-width="0.3" text-anchor="middle" textLength="3.60" lengthAdjust="spacingAndGlyphs">1T</text>
<text x="413.00" y="53.71" font-size="3.6" font-weight="bold" fill="#444" stroke="#444" stroke-width="0.25" text-anchor="middle" textLength="6.20" lengthAdjust="spacingAndGlyphs">1TB3</text>
<polygon points="430.00,49.71 432.90,44.71 438.30,44.71 441.20,49.71 438.30,54.71 432.90,54.71 430.00,49.71" stroke="#5a5a5a" stroke-width="0.9" fill="#fff"/>
<text x="435.60" y="48.81" font-size="3.4" font-weight="bold" fill="#777" stroke="#777" stroke-width="0.3" text-anchor="middle" textLength="3.60" lengthAdjust="spacingAndGlyphs">1T</text>
<text x="435.60" y="53.71" font-size="3.6" font-weight="bold" fill="#444" stroke="#444" stroke-width="0.25" text-anchor="middle" textLength="6.20" lengthAdjust="spacingAndGlyphs">1TB3</text>
<line x1="446.25" y1="49.71" x2="461.10" y2="49.71" stroke="#8a8a8a" stroke-width="1.2" stroke-dasharray="2.3,1.2"/>
<polygon points="385.75,49.71 387.25,48.21 388.75,49.71 387.25,51.21" stroke="#333" stroke-width="0.8" fill="#888"/>
<line x1="385.25" y1="49.71" x2="389.25" y2="49.71" stroke="#333" stroke-width="0.7"/>
<text x="383.00" y="47.11" font-size="3.0" font-weight="bold" fill="#000" stroke="#000" stroke-width="0.12" textLength="8.00" lengthAdjust="spacingAndGlyphs">1TO21</text>
<text x="393.00" y="47.11" font-size="3.0" font-weight="bold" fill="#000" stroke="#000" stroke-width="0.12" textLength="6.00" lengthAdjust="spacingAndGlyphs">CLK</text>
<text x="450.00" y="47.71" font-size="3.0" font-weight="bold" fill="#000" stroke="#000" stroke-width="0.12" textLength="5.60" lengthAdjust="spacingAndGlyphs">BLK</text>
<text x="406.00" y="60.71" font-size="3.0" font-weight="bold" fill="#000" stroke="#000" stroke-width="0.12" textLength="10.00" lengthAdjust="spacingAndGlyphs">BELDEN</text>
<text x="406.00" y="64.31" font-size="3.0" font-weight="bold" fill="#000" stroke="#000" stroke-width="0.12" textLength="8.00" lengthAdjust="spacingAndGlyphs">#8760</text>
<line x1="423.75" y1="56.21" x2="423.75" y2="60.21" stroke="#555" stroke-width="0.8"/>
<circle cx="423.75" cy="60.31" r="1.2" fill="#444"/>
<line x1="423.75" y1="61.51" x2="423.75" y2="64.01" stroke="#aaa" stroke-width="0.8"/>
<line x1="421.55" y1="64.01" x2="425.95" y2="64.01" stroke="#aaa" stroke-width="0.8"/>
<line x1="422.35" y1="65.11" x2="425.15" y2="65.11" stroke="#aaa" stroke-width="0.7"/>
<line x1="423.15" y1="66.11" x2="424.35" y2="66.11" stroke="#aaa" stroke-width="0.6"/>
<text x="427.00" y="62.31" font-size="3.0" font-weight="bold" fill="#000" stroke="#000" stroke-width="0.12" textLength="7.00" lengthAdjust="spacingAndGlyphs">SHLD</text>
<polygon points="459.60,49.71 461.10,48.21 462.60,49.71 461.10,51.21" stroke="#333" stroke-width="0.8" fill="#888"/>
<line x1="459.10" y1="49.71" x2="463.10" y2="49.71" stroke="#333" stroke-width="0.7"/>
<text x="466.20" y="51.11" font-size="3.2" font-weight="bold" fill="#000" stroke="#000" stroke-width="0.12" textLength="27.20" lengthAdjust="spacingAndGlyphs">VFD-1 SPEED CMD</text>
<text x="466.20" y="56.31" font-size="3.2" font-weight="bold" fill="#000" stroke="#000" stroke-width="0.12" textLength="15.00" lengthAdjust="spacingAndGlyphs">(4-20mA)</text>
<line x1="349.50" y1="87.12" x2="461.10" y2="87.12" stroke="#808080" stroke-width="1.3"/>
<polygon points="385.75,87.12 387.25,85.62 388.75,87.12 387.25,88.62" stroke="#333" stroke-width="0.8" fill="#888"/>
<line x1="385.25" y1="87.12" x2="389.25" y2="87.12" stroke="#333" stroke-width="0.7"/>
<text x="383.00" y="84.52" font-size="3.0" font-weight="bold" fill="#000" stroke="#000" stroke-width="0.12" textLength="8.00" lengthAdjust="spacingAndGlyphs">1TO41</text>
<polyline points="420.40,90.72 421.00,95.02 423.00,95.72 427.00,95.72 429.00,95.02 429.60,90.72" stroke="#555" stroke-width="0.6" fill="none"/>
<circle cx="425.0" cy="87.11999999999999" r="4.7" stroke="#333" stroke-width="0.9" fill="#fff"/>
<text x="425.00" y="95.02" font-size="3.0" font-weight="bold" fill="#333" stroke="#333" stroke-width="0.2" text-anchor="middle" textLength="6.50" lengthAdjust="spacingAndGlyphs">1TB3</text>
<text x="425.00" y="81.32" font-size="3.0" font-weight="normal" fill="#000" stroke="#000" stroke-width="0.25" text-anchor="middle" textLength="10.50" lengthAdjust="spacingAndGlyphs">1RRELAY</text>
<circle cx="434.2" cy="78.91999999999999" r="2.3" stroke="#666" stroke-width="0.6" fill="none"/>
<text x="434.20" y="79.92" font-size="2.6" font-weight="normal" fill="#777" stroke="#777" stroke-width="0.05" text-anchor="middle">1</text>
<text x="417.10" y="91.52" font-size="3.0" font-weight="bold" fill="#333" stroke="#333" stroke-width="0.15">5</text>
<text x="431.30" y="91.52" font-size="2.8" font-weight="normal" fill="#666" stroke="#666" stroke-width="0.08">1</text>
<circle cx="461.00" cy="87.12" r="2.0" fill="#111"/>
<text x="466.80" y="88.52" font-size="3.2" font-weight="bold" fill="#000" stroke="#000" stroke-width="0.12" textLength="28.70" lengthAdjust="spacingAndGlyphs">AHU RUN COMMAND</text>
<text x="466.80" y="93.02" font-size="3.2" font-weight="bold" fill="#000" stroke="#000" stroke-width="0.12" textLength="18.00" lengthAdjust="spacingAndGlyphs">120V, 3P, 3P</text>
<line x1="349.50" y1="124.53" x2="387.25" y2="124.53" stroke="#888" stroke-width="1.2"/>
<polygon points="385.75,124.53 387.25,123.03 388.75,124.53 387.25,126.03" stroke="#333" stroke-width="0.8" fill="#888"/>
<line x1="385.25" y1="124.53" x2="389.25" y2="124.53" stroke="#333" stroke-width="0.7"/>
<text x="383.00" y="121.93" font-size="3.0" font-weight="bold" fill="#000" stroke="#000" stroke-width="0.12" textLength="8.00" lengthAdjust="spacingAndGlyphs">1TO61</text>
<text x="466.80" y="126.03" font-size="3.2" font-weight="bold" fill="#000" stroke="#000" stroke-width="0.12" textLength="21.80" lengthAdjust="spacingAndGlyphs">SPARE OUTPUT</text>
<line x1="349.50" y1="255.46" x2="407.20" y2="255.46" stroke="#888" stroke-width="1.2"/>
<polygon points="385.75,255.46 387.25,253.96 388.75,255.46 387.25,256.96" stroke="#333" stroke-width="0.8" fill="#888"/>
<line x1="385.25" y1="255.46" x2="389.25" y2="255.46" stroke="#333" stroke-width="0.7"/>
<text x="383.00" y="252.86" font-size="3.0" font-weight="bold" fill="#000" stroke="#000" stroke-width="0.12" textLength="8.00" lengthAdjust="spacingAndGlyphs">1TO13</text>
<polygon points="407.40,255.46 410.30,250.46 415.70,250.46 418.60,255.46 415.70,260.46 410.30,260.46 407.40,255.46" stroke="#5a5a5a" stroke-width="0.9" fill="#fff"/>
<text x="413.00" y="254.56" font-size="3.4" font-weight="bold" fill="#777" stroke="#777" stroke-width="0.3" text-anchor="middle" textLength="3.60" lengthAdjust="spacingAndGlyphs">1T</text>
<text x="413.00" y="259.46" font-size="3.6" font-weight="bold" fill="#444" stroke="#444" stroke-width="0.25" text-anchor="middle" textLength="6.20" lengthAdjust="spacingAndGlyphs">1TB3</text>
<text x="466.00" y="256.86" font-size="3.2" font-weight="bold" fill="#000" stroke="#000" stroke-width="0.12" textLength="27.00" lengthAdjust="spacingAndGlyphs">MIXED AIR DAMPER</text>
<text x="466.00" y="261.26" font-size="3.2" font-weight="bold" fill="#000" stroke="#000" stroke-width="0.12" textLength="18.00" lengthAdjust="spacingAndGlyphs">CMD (2-10V)</text>
<line x1="349.50" y1="292.88" x2="461.10" y2="292.88" stroke="#808080" stroke-width="1.3"/>
<polygon points="385.75,292.88 387.25,291.38 388.75,292.88 387.25,294.38" stroke="#333" stroke-width="0.8" fill="#888"/>
<line x1="385.25" y1="292.88" x2="389.25" y2="292.88" stroke="#333" stroke-width="0.7"/>
<text x="383.00" y="290.27" font-size="3.0" font-weight="bold" fill="#000" stroke="#000" stroke-width="0.12" textLength="8.00" lengthAdjust="spacingAndGlyphs">1TO15</text>
<polyline points="420.40,296.48 421.00,300.77 423.00,301.48 427.00,301.48 429.00,300.77 429.60,296.48" stroke="#555" stroke-width="0.6" fill="none"/>
<circle cx="425.0" cy="292.875" r="4.7" stroke="#333" stroke-width="0.9" fill="#fff"/>
<text x="425.00" y="300.77" font-size="3.0" font-weight="bold" fill="#333" stroke="#333" stroke-width="0.2" text-anchor="middle" textLength="6.50" lengthAdjust="spacingAndGlyphs">1TB3</text>
<text x="425.00" y="287.07" font-size="3.0" font-weight="normal" fill="#000" stroke="#000" stroke-width="0.25" text-anchor="middle" textLength="10.50" lengthAdjust="spacingAndGlyphs">1RRELAY</text>
<circle cx="434.2" cy="284.675" r="2.3" stroke="#666" stroke-width="0.6" fill="none"/>
<text x="434.20" y="285.68" font-size="2.6" font-weight="normal" fill="#777" stroke="#777" stroke-width="0.05" text-anchor="middle">1</text>
<text x="417.10" y="297.27" font-size="3.0" font-weight="bold" fill="#333" stroke="#333" stroke-width="0.15">5</text>
<text x="431.30" y="297.27" font-size="2.8" font-weight="normal" fill="#666" stroke="#666" stroke-width="0.08">1</text>
<circle cx="461.00" cy="292.88" r="2.0" fill="#111"/>
<text x="466.00" y="290.48" font-size="3.2" font-weight="bold" fill="#000" stroke="#000" stroke-width="0.12" textLength="7.00" lengthAdjust="spacingAndGlyphs">EF-A</text>
<text x="466.00" y="294.48" font-size="3.2" font-weight="bold" fill="#000" stroke="#000" stroke-width="0.12" textLength="21.00" lengthAdjust="spacingAndGlyphs">RUN COMMAND</text>
<text x="466.00" y="298.88" font-size="3.2" font-weight="bold" fill="#000" stroke="#000" stroke-width="0.12" textLength="6.00" lengthAdjust="spacingAndGlyphs">230S</text>
<line x1="349.50" y1="330.28" x2="461.10" y2="330.28" stroke="#808080" stroke-width="1.3"/>
<polygon points="385.75,330.28 387.25,328.78 388.75,330.28 387.25,331.78" stroke="#333" stroke-width="0.8" fill="#888"/>
<line x1="385.25" y1="330.28" x2="389.25" y2="330.28" stroke="#333" stroke-width="0.7"/>
<text x="383.00" y="327.68" font-size="3.0" font-weight="bold" fill="#000" stroke="#000" stroke-width="0.12" textLength="8.00" lengthAdjust="spacingAndGlyphs">1TO17</text>
<polyline points="420.40,333.88 421.00,338.18 423.00,338.88 427.00,338.88 429.00,338.18 429.60,333.88" stroke="#555" stroke-width="0.6" fill="none"/>
<circle cx="425.0" cy="330.28499999999997" r="4.7" stroke="#333" stroke-width="0.9" fill="#fff"/>
<text x="425.00" y="338.18" font-size="3.0" font-weight="bold" fill="#333" stroke="#333" stroke-width="0.2" text-anchor="middle" textLength="6.50" lengthAdjust="spacingAndGlyphs">1TB3</text>
<text x="425.00" y="324.48" font-size="3.0" font-weight="normal" fill="#000" stroke="#000" stroke-width="0.25" text-anchor="middle" textLength="10.50" lengthAdjust="spacingAndGlyphs">1RRELAY</text>
<circle cx="434.2" cy="322.085" r="2.3" stroke="#666" stroke-width="0.6" fill="none"/>
<text x="434.20" y="323.08" font-size="2.6" font-weight="normal" fill="#777" stroke="#777" stroke-width="0.05" text-anchor="middle">1</text>
<text x="417.10" y="334.68" font-size="3.0" font-weight="bold" fill="#333" stroke="#333" stroke-width="0.15">5</text>
<text x="431.30" y="334.68" font-size="2.8" font-weight="normal" fill="#666" stroke="#666" stroke-width="0.08">1</text>
<circle cx="461.00" cy="330.28" r="2.0" fill="#111"/>
<text x="466.00" y="327.88" font-size="3.2" font-weight="bold" fill="#000" stroke="#000" stroke-width="0.12" textLength="7.00" lengthAdjust="spacingAndGlyphs">EF-B</text>
<text x="466.00" y="331.88" font-size="3.2" font-weight="bold" fill="#000" stroke="#000" stroke-width="0.12" textLength="21.00" lengthAdjust="spacingAndGlyphs">RUN COMMAND</text>
<text x="466.00" y="336.28" font-size="3.2" font-weight="bold" fill="#000" stroke="#000" stroke-width="0.12" textLength="6.00" lengthAdjust="spacingAndGlyphs">230S</text>
<rect x="51.50" y="27.50" width="25.00" height="44.40" stroke="#aaa" stroke-width="1.2" fill="none"/>
<text x="54.00" y="25.70" font-size="3.0" font-weight="bold" fill="#000" stroke="#000" stroke-width="0.2" textLength="16.80" lengthAdjust="spacingAndGlyphs">1TXDT1,PAT</text>
<rect x="71.30" y="23.50" width="2.0" height="2.0" fill="#111"/>
<circle cx="72.75" cy="57.50" r="1.2" fill="#333"/>
<line x1="71.00" y1="57.50" x2="76.50" y2="57.50" stroke="#555" stroke-width="0.6"/>
<text x="68.80" y="58.70" font-size="3.0" font-weight="bold" fill="#000" stroke="#000" stroke-width="0.2" textLength="1.80" lengthAdjust="spacingAndGlyphs">T</text>
<line x1="76.50" y1="57.50" x2="111.00" y2="57.50" stroke="#8a8a8a" stroke-width="1.2" stroke-dasharray="2.3,1.2"/>
<polygon points="109.50,57.50 111.00,56.00 112.50,57.50 111.00,59.00" stroke="#333" stroke-width="0.8" fill="#888"/>
<line x1="109.00" y1="57.50" x2="113.00" y2="57.50" stroke="#333" stroke-width="0.7"/>
<circle cx="72.75" cy="68.50" r="1.2" fill="#333"/>
<line x1="71.00" y1="68.50" x2="76.50" y2="68.50" stroke="#555" stroke-width="0.6"/>
<text x="68.80" y="69.70" font-size="3.0" font-weight="bold" fill="#000" stroke="#000" stroke-width="0.2" textLength="1.80" lengthAdjust="spacingAndGlyphs">T</text>
<line x1="76.50" y1="68.50" x2="111.00" y2="68.50" stroke="#8a8a8a" stroke-width="1.2" stroke-dasharray="2.3,1.2"/>
<polygon points="109.50,68.50 111.00,67.00 112.50,68.50 111.00,70.00" stroke="#333" stroke-width="0.8" fill="#888"/>
<line x1="109.00" y1="68.50" x2="113.00" y2="68.50" stroke="#333" stroke-width="0.7"/>
<line x1="83.40" y1="55.00" x2="83.40" y2="73.00" stroke="#aaa" stroke-width="2.0"/>
<polygon points="82.2,55.20 83.4,53.70 84.6,55.20" fill="#999"/>
<line x1="83.40" y1="73.50" x2="83.40" y2="76.00" stroke="#aaa" stroke-width="0.8"/>
<line x1="81.20" y1="76.00" x2="85.60" y2="76.00" stroke="#aaa" stroke-width="0.8"/>
<line x1="82.00" y1="77.10" x2="84.80" y2="77.10" stroke="#aaa" stroke-width="0.7"/>
<line x1="82.80" y1="78.10" x2="84.00" y2="78.10" stroke="#aaa" stroke-width="0.6"/>
<text x="87.00" y="56.00" font-size="3.0" font-weight="bold" fill="#000" stroke="#000" stroke-width="0.2" textLength="4.20" lengthAdjust="spacingAndGlyphs">BLK</text>
<text x="87.00" y="67.00" font-size="3.0" font-weight="bold" fill="#000" stroke="#000" stroke-width="0.2" textLength="4.20" lengthAdjust="spacingAndGlyphs">CLK</text>
<text x="95.00" y="71.70" font-size="3.0" font-weight="bold" fill="#000" stroke="#000" stroke-width="0.2" textLength="10.50" lengthAdjust="spacingAndGlyphs">BELDEN</text>
<text x="96.60" y="75.70" font-size="3.0" font-weight="bold" fill="#000" stroke="#000" stroke-width="0.2" textLength="8.60" lengthAdjust="spacingAndGlyphs">#8760</text>
<text x="107.30" y="55.30" font-size="3.0" font-weight="bold" fill="#000" stroke="#000" stroke-width="0.2" textLength="8.00" lengthAdjust="spacingAndGlyphs">10(2)</text>
<text x="107.50" y="66.30" font-size="3.0" font-weight="bold" fill="#000" stroke="#000" stroke-width="0.2" textLength="8.00" lengthAdjust="spacingAndGlyphs">1TO2B</text>
<text x="110.00" y="61.50" font-size="3.0" font-weight="bold" fill="#000" stroke="#000" stroke-width="0.2" textLength="10.00" lengthAdjust="spacingAndGlyphs">#16 BLU</text>
<line x1="111.00" y1="57.50" x2="204.00" y2="57.50" stroke="#7a7a7a" stroke-width="1.3"/>
<circle cx="204.00" cy="57.50" r="2.0" fill="#111"/>
<line x1="111.00" y1="68.50" x2="148.75" y2="68.50" stroke="#aaa" stroke-width="1.5"/>
<line x1="122.80" y1="59.50" x2="122.80" y2="68.50" stroke="#666" stroke-width="0.8"/>
<circle cx="122.80" cy="68.50" r="1.0" fill="#222"/>
<rect x="51.50" y="90.60" width="25.00" height="18.90" stroke="#aaa" stroke-width="1.2" fill="none"/>
<text x="58.00" y="88.80" font-size="3.0" font-weight="bold" fill="#000" stroke="#000" stroke-width="0.2" textLength="10.00" lengthAdjust="spacingAndGlyphs">1TOO7PM</text>
<rect x="68.50" y="86.60" width="2.0" height="2.0" fill="#111"/>
<circle cx="72.75" cy="94.50" r="1.2" fill="#333"/>
<line x1="71.00" y1="94.50" x2="76.50" y2="94.50" stroke="#555" stroke-width="0.6"/>
<text x="68.80" y="95.70" font-size="3.0" font-weight="bold" fill="#000" stroke="#000" stroke-width="0.2" textLength="1.80" lengthAdjust="spacingAndGlyphs">T</text>
<line x1="76.50" y1="94.50" x2="111.00" y2="94.50" stroke="#8a8a8a" stroke-width="1.2" stroke-dasharray="2.3,1.2"/>
<polygon points="109.50,94.50 111.00,93.00 112.50,94.50 111.00,96.00" stroke="#333" stroke-width="0.8" fill="#888"/>
<line x1="109.00" y1="94.50" x2="113.00" y2="94.50" stroke="#333" stroke-width="0.7"/>
<circle cx="72.75" cy="105.60" r="1.2" fill="#333"/>
<line x1="71.00" y1="105.60" x2="76.50" y2="105.60" stroke="#555" stroke-width="0.6"/>
<text x="68.80" y="106.80" font-size="3.0" font-weight="bold" fill="#000" stroke="#000" stroke-width="0.2" textLength="1.80" lengthAdjust="spacingAndGlyphs">T</text>
<line x1="76.50" y1="105.60" x2="111.00" y2="105.60" stroke="#8a8a8a" stroke-width="1.2" stroke-dasharray="2.3,1.2"/>
<polygon points="109.50,105.60 111.00,104.10 112.50,105.60 111.00,107.10" stroke="#333" stroke-width="0.8" fill="#888"/>
<line x1="109.00" y1="105.60" x2="113.00" y2="105.60" stroke="#333" stroke-width="0.7"/>
<line x1="83.40" y1="92.00" x2="83.40" y2="110.10" stroke="#aaa" stroke-width="2.0"/>
<polygon points="82.2,92.20 83.4,90.70 84.6,92.20" fill="#999"/>
<line x1="83.40" y1="110.10" x2="83.40" y2="112.10" stroke="#777" stroke-width="0.7"/>
<circle cx="83.4" cy="111.90" r="1.2" fill="#555"/>
<line x1="83.40" y1="113.10" x2="83.40" y2="115.60" stroke="#aaa" stroke-width="0.8"/>
<line x1="81.20" y1="115.60" x2="85.60" y2="115.60" stroke="#aaa" stroke-width="0.8"/>
<line x1="82.00" y1="116.70" x2="84.80" y2="116.70" stroke="#aaa" stroke-width="0.7"/>
<line x1="82.80" y1="117.70" x2="84.00" y2="117.70" stroke="#aaa" stroke-width="0.6"/>
<text x="87.00" y="113.60" font-size="3.0" font-weight="bold" fill="#000" stroke="#000" stroke-width="0.2" textLength="7.50" lengthAdjust="spacingAndGlyphs">SHLD</text>
<text x="87.00" y="93.00" font-size="3.0" font-weight="bold" fill="#000" stroke="#000" stroke-width="0.2" textLength="4.20" lengthAdjust="spacingAndGlyphs">BLK</text>
<text x="87.00" y="104.10" font-size="3.0" font-weight="bold" fill="#000" stroke="#000" stroke-width="0.2" textLength="4.20" lengthAdjust="spacingAndGlyphs">CLK</text>
<text x="93.30" y="108.80" font-size="3.0" font-weight="bold" fill="#000" stroke="#000" stroke-width="0.2" textLength="9.70" lengthAdjust="spacingAndGlyphs">BELDEN</text>
<text x="94.90" y="112.80" font-size="3.0" font-weight="bold" fill="#000" stroke="#000" stroke-width="0.2" textLength="8.30" lengthAdjust="spacingAndGlyphs">#8760</text>
<text x="107.30" y="92.30" font-size="3.0" font-weight="bold" fill="#000" stroke="#000" stroke-width="0.2" textLength="8.00" lengthAdjust="spacingAndGlyphs">10(2)</text>
<text x="107.50" y="103.40" font-size="3.0" font-weight="bold" fill="#000" stroke="#000" stroke-width="0.2" textLength="8.00" lengthAdjust="spacingAndGlyphs">1TO2B</text>
<text x="110.00" y="98.50" font-size="3.0" font-weight="bold" fill="#000" stroke="#000" stroke-width="0.2" textLength="10.00" lengthAdjust="spacingAndGlyphs">#16 BLU</text>
<line x1="111.00" y1="94.50" x2="204.00" y2="94.50" stroke="#7a7a7a" stroke-width="1.3"/>
<circle cx="204.00" cy="94.50" r="2.0" fill="#111"/>
<line x1="111.00" y1="105.60" x2="148.75" y2="105.60" stroke="#aaa" stroke-width="1.5"/>
<line x1="122.80" y1="96.50" x2="122.80" y2="105.60" stroke="#666" stroke-width="0.8"/>
<circle cx="122.80" cy="105.60" r="1.0" fill="#222"/>
<rect x="51.50" y="128.30" width="25.00" height="18.60" stroke="#aaa" stroke-width="1.2" fill="none"/>
<text x="58.00" y="126.50" font-size="3.0" font-weight="bold" fill="#000" stroke="#000" stroke-width="0.2" textLength="10.00" lengthAdjust="spacingAndGlyphs">1TOO7PM</text>
<rect x="68.50" y="124.30" width="2.0" height="2.0" fill="#111"/>
<circle cx="72.75" cy="132.00" r="1.2" fill="#333"/>
<line x1="71.00" y1="132.00" x2="76.50" y2="132.00" stroke="#555" stroke-width="0.6"/>
<text x="68.80" y="133.20" font-size="3.0" font-weight="bold" fill="#000" stroke="#000" stroke-width="0.2" textLength="1.80" lengthAdjust="spacingAndGlyphs">T</text>
<line x1="76.50" y1="132.00" x2="111.00" y2="132.00" stroke="#8a8a8a" stroke-width="1.2" stroke-dasharray="2.3,1.2"/>
<polygon points="109.50,132.00 111.00,130.50 112.50,132.00 111.00,133.50" stroke="#333" stroke-width="0.8" fill="#888"/>
<line x1="109.00" y1="132.00" x2="113.00" y2="132.00" stroke="#333" stroke-width="0.7"/>
<circle cx="72.75" cy="143.50" r="1.2" fill="#333"/>
<line x1="71.00" y1="143.50" x2="76.50" y2="143.50" stroke="#555" stroke-width="0.6"/>
<text x="68.80" y="144.70" font-size="3.0" font-weight="bold" fill="#000" stroke="#000" stroke-width="0.2" textLength="1.80" lengthAdjust="spacingAndGlyphs">T</text>
<line x1="76.50" y1="143.50" x2="111.00" y2="143.50" stroke="#8a8a8a" stroke-width="1.2" stroke-dasharray="2.3,1.2"/>
<polygon points="109.50,143.50 111.00,142.00 112.50,143.50 111.00,145.00" stroke="#333" stroke-width="0.8" fill="#888"/>
<line x1="109.00" y1="143.50" x2="113.00" y2="143.50" stroke="#333" stroke-width="0.7"/>
<line x1="83.40" y1="129.50" x2="83.40" y2="148.00" stroke="#aaa" stroke-width="2.0"/>
<polygon points="82.2,129.70 83.4,128.20 84.6,129.70" fill="#999"/>
<line x1="83.40" y1="148.00" x2="83.40" y2="150.00" stroke="#777" stroke-width="0.7"/>
<circle cx="83.4" cy="149.80" r="1.2" fill="#555"/>
<line x1="83.40" y1="151.00" x2="83.40" y2="153.50" stroke="#aaa" stroke-width="0.8"/>
<line x1="81.20" y1="153.50" x2="85.60" y2="153.50" stroke="#aaa" stroke-width="0.8"/>
<line x1="82.00" y1="154.60" x2="84.80" y2="154.60" stroke="#aaa" stroke-width="0.7"/>
<line x1="82.80" y1="155.60" x2="84.00" y2="155.60" stroke="#aaa" stroke-width="0.6"/>
<text x="87.00" y="151.50" font-size="3.0" font-weight="bold" fill="#000" stroke="#000" stroke-width="0.2" textLength="7.50" lengthAdjust="spacingAndGlyphs">SHLD</text>
<text x="87.00" y="130.50" font-size="3.0" font-weight="bold" fill="#000" stroke="#000" stroke-width="0.2" textLength="4.20" lengthAdjust="spacingAndGlyphs">BLK</text>
<text x="87.00" y="142.00" font-size="3.0" font-weight="bold" fill="#000" stroke="#000" stroke-width="0.2" textLength="4.20" lengthAdjust="spacingAndGlyphs">CLK</text>
<text x="93.30" y="146.70" font-size="3.0" font-weight="bold" fill="#000" stroke="#000" stroke-width="0.2" textLength="9.70" lengthAdjust="spacingAndGlyphs">BELDEN</text>
<text x="94.90" y="150.70" font-size="3.0" font-weight="bold" fill="#000" stroke="#000" stroke-width="0.2" textLength="8.30" lengthAdjust="spacingAndGlyphs">#8760</text>
<text x="107.30" y="129.80" font-size="3.0" font-weight="bold" fill="#000" stroke="#000" stroke-width="0.2" textLength="8.00" lengthAdjust="spacingAndGlyphs">10(2)</text>
<text x="107.50" y="141.30" font-size="3.0" font-weight="bold" fill="#000" stroke="#000" stroke-width="0.2" textLength="8.00" lengthAdjust="spacingAndGlyphs">1TO2B</text>
<text x="110.00" y="136.00" font-size="3.0" font-weight="bold" fill="#000" stroke="#000" stroke-width="0.2" textLength="10.00" lengthAdjust="spacingAndGlyphs">#16 BLU</text>
<line x1="111.00" y1="132.00" x2="204.00" y2="132.00" stroke="#7a7a7a" stroke-width="1.3"/>
<circle cx="204.00" cy="132.00" r="2.0" fill="#111"/>
<line x1="111.00" y1="143.50" x2="148.75" y2="143.50" stroke="#aaa" stroke-width="1.5"/>
<line x1="122.80" y1="134.00" x2="122.80" y2="143.50" stroke="#666" stroke-width="0.8"/>
<circle cx="122.80" cy="143.50" r="1.0" fill="#222"/>
<rect x="51.50" y="221.25" width="25.00" height="19.00" stroke="#aaa" stroke-width="1.2" fill="none"/>
<text x="58.00" y="219.45" font-size="3.0" font-weight="bold" fill="#000" stroke="#000" stroke-width="0.2" textLength="10.00" lengthAdjust="spacingAndGlyphs">1TOO7PM</text>
<rect x="68.50" y="217.25" width="2.0" height="2.0" fill="#111"/>
<circle cx="72.75" cy="225.50" r="1.2" fill="#333"/>
<line x1="71.00" y1="225.50" x2="76.50" y2="225.50" stroke="#555" stroke-width="0.6"/>
<text x="68.80" y="226.70" font-size="3.0" font-weight="bold" fill="#000" stroke="#000" stroke-width="0.2" textLength="1.80" lengthAdjust="spacingAndGlyphs">T</text>
<line x1="76.50" y1="225.50" x2="111.00" y2="225.50" stroke="#8a8a8a" stroke-width="1.2" stroke-dasharray="2.3,1.2"/>
<polygon points="109.50,225.50 111.00,224.00 112.50,225.50 111.00,227.00" stroke="#333" stroke-width="0.8" fill="#888"/>
<line x1="109.00" y1="225.50" x2="113.00" y2="225.50" stroke="#333" stroke-width="0.7"/>
<circle cx="72.75" cy="236.90" r="1.2" fill="#333"/>
<line x1="71.00" y1="236.90" x2="76.50" y2="236.90" stroke="#555" stroke-width="0.6"/>
<text x="68.80" y="238.10" font-size="3.0" font-weight="bold" fill="#000" stroke="#000" stroke-width="0.2" textLength="1.80" lengthAdjust="spacingAndGlyphs">T</text>
<line x1="76.50" y1="236.90" x2="111.00" y2="236.90" stroke="#8a8a8a" stroke-width="1.2" stroke-dasharray="2.3,1.2"/>
<polygon points="109.50,236.90 111.00,235.40 112.50,236.90 111.00,238.40" stroke="#333" stroke-width="0.8" fill="#888"/>
<line x1="109.00" y1="236.90" x2="113.00" y2="236.90" stroke="#333" stroke-width="0.7"/>
<line x1="83.40" y1="223.00" x2="83.40" y2="241.40" stroke="#aaa" stroke-width="2.0"/>
<polygon points="82.2,223.20 83.4,221.70 84.6,223.20" fill="#999"/>
<line x1="83.40" y1="241.40" x2="83.40" y2="243.40" stroke="#777" stroke-width="0.7"/>
<circle cx="83.4" cy="243.20" r="1.2" fill="#555"/>
<line x1="83.40" y1="244.40" x2="83.40" y2="246.90" stroke="#aaa" stroke-width="0.8"/>
<line x1="81.20" y1="246.90" x2="85.60" y2="246.90" stroke="#aaa" stroke-width="0.8"/>
<line x1="82.00" y1="248.00" x2="84.80" y2="248.00" stroke="#aaa" stroke-width="0.7"/>
<line x1="82.80" y1="249.00" x2="84.00" y2="249.00" stroke="#aaa" stroke-width="0.6"/>
<text x="87.00" y="244.90" font-size="3.0" font-weight="bold" fill="#000" stroke="#000" stroke-width="0.2" textLength="7.50" lengthAdjust="spacingAndGlyphs">SHLD</text>
<text x="87.00" y="224.00" font-size="3.0" font-weight="bold" fill="#000" stroke="#000" stroke-width="0.2" textLength="4.20" lengthAdjust="spacingAndGlyphs">BLK</text>
<text x="87.00" y="235.40" font-size="3.0" font-weight="bold" fill="#000" stroke="#000" stroke-width="0.2" textLength="4.20" lengthAdjust="spacingAndGlyphs">CLK</text>
<text x="93.30" y="240.10" font-size="3.0" font-weight="bold" fill="#000" stroke="#000" stroke-width="0.2" textLength="9.70" lengthAdjust="spacingAndGlyphs">BELDEN</text>
<text x="94.90" y="244.10" font-size="3.0" font-weight="bold" fill="#000" stroke="#000" stroke-width="0.2" textLength="8.30" lengthAdjust="spacingAndGlyphs">#8760</text>
<text x="107.30" y="223.30" font-size="3.0" font-weight="bold" fill="#000" stroke="#000" stroke-width="0.2" textLength="8.00" lengthAdjust="spacingAndGlyphs">10(2)</text>
<text x="107.50" y="234.70" font-size="3.0" font-weight="bold" fill="#000" stroke="#000" stroke-width="0.2" textLength="8.00" lengthAdjust="spacingAndGlyphs">1TO2B</text>
<text x="110.00" y="229.50" font-size="3.0" font-weight="bold" fill="#000" stroke="#000" stroke-width="0.2" textLength="10.00" lengthAdjust="spacingAndGlyphs">#16 BLU</text>
<line x1="111.00" y1="225.50" x2="204.00" y2="225.50" stroke="#7a7a7a" stroke-width="1.3"/>
<circle cx="204.00" cy="225.50" r="2.0" fill="#111"/>
<line x1="111.00" y1="236.90" x2="148.75" y2="236.90" stroke="#aaa" stroke-width="1.5"/>
<line x1="122.80" y1="227.50" x2="122.80" y2="236.90" stroke="#666" stroke-width="0.8"/>
<circle cx="122.80" cy="236.90" r="1.0" fill="#222"/>
<line x1="16.80" y1="31.00" x2="111.00" y2="31.00" stroke="#8a8a8a" stroke-width="1.2" stroke-dasharray="2.3,1.2"/>
<circle cx="16.80" cy="31.00" r="1.3" fill="#333"/>
<line x1="44.40" y1="21.00" x2="94.40" y2="21.00" stroke="#a0a0a0" stroke-width="1.4"/>
<line x1="44.40" y1="21.00" x2="44.40" y2="34.00" stroke="#999" stroke-width="1.1"/>
<line x1="83.50" y1="21.00" x2="83.50" y2="34.00" stroke="#777" stroke-width="1.1"/>
<polygon points="42.90,31.00 44.40,29.50 45.90,31.00 44.40,32.50" stroke="#777" stroke-width="0.8" fill="#888"/>
<line x1="42.40" y1="31.00" x2="46.40" y2="31.00" stroke="#777" stroke-width="0.7"/>
<polygon points="82.00,31.00 83.50,29.50 85.00,31.00 83.50,32.50" stroke="#666" stroke-width="0.8" fill="#888"/>
<line x1="81.50" y1="31.00" x2="85.50" y2="31.00" stroke="#666" stroke-width="0.7"/>
<polygon points="55.50,31.00 57.00,29.50 58.50,31.00 57.00,32.50" stroke="#333" stroke-width="0.8" fill="#888"/>
<line x1="55.00" y1="31.00" x2="59.00" y2="31.00" stroke="#333" stroke-width="0.7"/>
<polygon points="71.25,31.00 72.75,29.50 74.25,31.00 72.75,32.50" stroke="#333" stroke-width="0.8" fill="#888"/>
<line x1="70.75" y1="31.00" x2="74.75" y2="31.00" stroke="#333" stroke-width="0.7"/>
<circle cx="94.40" cy="21.00" r="1.2" fill="#444"/>
<line x1="94.40" y1="23.00" x2="94.40" y2="25.50" stroke="#aaa" stroke-width="0.8"/>
<line x1="92.20" y1="25.50" x2="96.60" y2="25.50" stroke="#aaa" stroke-width="0.8"/>
<line x1="93.00" y1="26.60" x2="95.80" y2="26.60" stroke="#aaa" stroke-width="0.7"/>
<line x1="93.80" y1="27.60" x2="95.00" y2="27.60" stroke="#aaa" stroke-width="0.6"/>
<text x="98.00" y="23.60" font-size="3.0" font-weight="bold" fill="#000" stroke="#000" stroke-width="0.2" textLength="7.00" lengthAdjust="spacingAndGlyphs">SHLD</text>
<text x="32.80" y="21.70" font-size="3.0" font-weight="bold" fill="#000" stroke="#000" stroke-width="0.2" textLength="10.30" lengthAdjust="spacingAndGlyphs">BELDEN</text>
<text x="34.00" y="25.70" font-size="3.0" font-weight="bold" fill="#000" stroke="#000" stroke-width="0.2" textLength="8.80" lengthAdjust="spacingAndGlyphs">#8760</text>
<text x="36.00" y="29.10" font-size="3.0" font-weight="bold" fill="#000" stroke="#000" stroke-width="0.2" textLength="5.20" lengthAdjust="spacingAndGlyphs">BLK</text>
<text x="87.00" y="29.80" font-size="3.0" font-weight="bold" fill="#000" stroke="#000" stroke-width="0.2" textLength="5.50" lengthAdjust="spacingAndGlyphs">CLK</text>
<text x="108.00" y="29.60" font-size="3.0" font-weight="bold" fill="#000" stroke="#000" stroke-width="0.2" textLength="7.00" lengthAdjust="spacingAndGlyphs">1TO01</text>
<text x="110.00" y="24.20" font-size="3.0" font-weight="bold" fill="#000" stroke="#000" stroke-width="0.2" textLength="11.50" lengthAdjust="spacingAndGlyphs">#16 BLU</text>
<polygon points="109.50,31.00 111.00,29.50 112.50,31.00 111.00,32.50" stroke="#333" stroke-width="0.8" fill="#888"/>
<line x1="109.00" y1="31.00" x2="113.00" y2="31.00" stroke="#333" stroke-width="0.7"/>
<line x1="111.00" y1="31.00" x2="148.75" y2="31.00" stroke="#999" stroke-width="1.5"/>
<line x1="122.80" y1="22.50" x2="122.80" y2="31.00" stroke="#666" stroke-width="0.8"/>
<circle cx="122.80" cy="31.00" r="1.0" fill="#222"/>
<circle cx="16.80" cy="274.17" r="1.3" fill="#333"/>
<line x1="16.80" y1="274.17" x2="44.40" y2="274.17" stroke="#8a8a8a" stroke-width="1.2" stroke-dasharray="2.3,1.2"/>
<line x1="44.40" y1="274.17" x2="51.25" y2="274.17" stroke="#8a8a8a" stroke-width="1.2" stroke-dasharray="2.3,1.2"/>
<line x1="76.25" y1="274.17" x2="83.10" y2="274.17" stroke="#8a8a8a" stroke-width="1.2" stroke-dasharray="2.3,1.2"/>
<line x1="83.10" y1="274.17" x2="110.60" y2="274.17" stroke="#8a8a8a" stroke-width="1.2" stroke-dasharray="2.3,1.2"/>
<rect x="51.25" y="269.57" width="25.00" height="9.10" stroke="#777" stroke-width="1.0" fill="none"/>
<polygon points="53.50,274.17 55.00,272.67 56.50,274.17 55.00,275.67" stroke="#333" stroke-width="0.8" fill="#888"/>
<line x1="53.00" y1="274.17" x2="57.00" y2="274.17" stroke="#333" stroke-width="0.7"/>
<polygon points="71.00,274.17 72.50,272.67 74.00,274.17 72.50,275.67" stroke="#333" stroke-width="0.8" fill="#888"/>
<line x1="70.50" y1="274.17" x2="74.50" y2="274.17" stroke="#333" stroke-width="0.7"/>
<polyline points="42.80,274.97 44.40,271.77 46.00,274.97 42.80,274.97" stroke="#777" stroke-width="0.6" fill="none"/>
<polyline points="81.50,274.97 83.10,271.77 84.70,274.97 81.50,274.97" stroke="#777" stroke-width="0.6" fill="none"/>
<polyline points="44.40,274.97 44.40,281.67 83.10,281.67 83.10,274.97" stroke="#888" stroke-width="1.0" fill="none"/>
<text x="56.00" y="268.17" font-size="3.1" font-weight="bold" fill="#000" stroke="#000" stroke-width="0.12" textLength="12.00" lengthAdjust="spacingAndGlyphs">1TO4PS</text>
<rect x="70.30" y="266.17" width="2.0" height="2.0" fill="#111"/>
<circle cx="80" cy="266.37" r="2.4" stroke="#444" stroke-width="0.6" fill="none"/>
<text x="80.00" y="267.47" font-size="3.0" font-weight="normal" fill="#444" stroke="#444" stroke-width="0.08" text-anchor="middle">2</text>
<text x="36.00" y="272.37" font-size="3.0" font-weight="bold" fill="#000" stroke="#000" stroke-width="0.2" textLength="5.00" lengthAdjust="spacingAndGlyphs">BLK</text>
<text x="87.00" y="272.37" font-size="3.0" font-weight="bold" fill="#000" stroke="#000" stroke-width="0.2" textLength="5.20" lengthAdjust="spacingAndGlyphs">CLK</text>
<text x="85.60" y="277.97" font-size="3.0" font-weight="bold" fill="#000" stroke="#000" stroke-width="0.2" textLength="10.00" lengthAdjust="spacingAndGlyphs">BELDEN</text>
<text x="87.00" y="281.57" font-size="3.0" font-weight="bold" fill="#000" stroke="#000" stroke-width="0.2" textLength="8.00" lengthAdjust="spacingAndGlyphs">#8760</text>
<polygon points="109.10,274.17 110.60,272.67 112.10,274.17 110.60,275.67" stroke="#333" stroke-width="0.8" fill="#888"/>
<line x1="108.60" y1="274.17" x2="112.60" y2="274.17" stroke="#333" stroke-width="0.7"/>
<text x="107.50" y="271.17" font-size="3.0" font-weight="bold" fill="#000" stroke="#000" stroke-width="0.2" textLength="7.50" lengthAdjust="spacingAndGlyphs">1TO4</text>
<text x="110.00" y="267.17" font-size="3.0" font-weight="bold" fill="#000" stroke="#000" stroke-width="0.2" textLength="11.00" lengthAdjust="spacingAndGlyphs">#16 BLU</text>
<line x1="110.60" y1="274.17" x2="148.75" y2="274.17" stroke="#999" stroke-width="1.5"/>
<line x1="122.80" y1="266.47" x2="122.80" y2="274.17" stroke="#666" stroke-width="0.8"/>
<circle cx="122.80" cy="274.17" r="1.0" fill="#222"/>
<circle cx="16.80" cy="292.88" r="1.3" fill="#333"/>
<line x1="16.80" y1="292.88" x2="44.40" y2="292.88" stroke="#8a8a8a" stroke-width="1.2" stroke-dasharray="2.3,1.2"/>
<line x1="44.40" y1="292.88" x2="51.25" y2="292.88" stroke="#8a8a8a" stroke-width="1.2" stroke-dasharray="2.3,1.2"/>
<line x1="76.25" y1="292.88" x2="83.10" y2="292.88" stroke="#8a8a8a" stroke-width="1.2" stroke-dasharray="2.3,1.2"/>
<line x1="83.10" y1="292.88" x2="110.60" y2="292.88" stroke="#8a8a8a" stroke-width="1.2" stroke-dasharray="2.3,1.2"/>
<rect x="51.25" y="288.27" width="25.00" height="9.10" stroke="#777" stroke-width="1.0" fill="none"/>
<polygon points="53.50,292.88 55.00,291.38 56.50,292.88 55.00,294.38" stroke="#333" stroke-width="0.8" fill="#888"/>
<line x1="53.00" y1="292.88" x2="57.00" y2="292.88" stroke="#333" stroke-width="0.7"/>
<polygon points="71.00,292.88 72.50,291.38 74.00,292.88 72.50,294.38" stroke="#333" stroke-width="0.8" fill="#888"/>
<line x1="70.50" y1="292.88" x2="74.50" y2="292.88" stroke="#333" stroke-width="0.7"/>
<polyline points="42.80,293.68 44.40,290.48 46.00,293.68 42.80,293.68" stroke="#777" stroke-width="0.6" fill="none"/>
<polyline points="81.50,293.68 83.10,290.48 84.70,293.68 81.50,293.68" stroke="#777" stroke-width="0.6" fill="none"/>
<polyline points="44.40,293.68 44.40,300.38 83.10,300.38 83.10,293.68" stroke="#888" stroke-width="1.0" fill="none"/>
<text x="56.00" y="286.88" font-size="3.1" font-weight="bold" fill="#000" stroke="#000" stroke-width="0.12" textLength="12.00" lengthAdjust="spacingAndGlyphs">1TO3M</text>
<rect x="70.30" y="284.88" width="2.0" height="2.0" fill="#111"/>
<circle cx="80" cy="285.07" r="2.4" stroke="#444" stroke-width="0.6" fill="none"/>
<text x="80.00" y="286.18" font-size="3.0" font-weight="normal" fill="#444" stroke="#444" stroke-width="0.08" text-anchor="middle">2</text>
<text x="36.00" y="291.07" font-size="3.0" font-weight="bold" fill="#000" stroke="#000" stroke-width="0.2" textLength="5.00" lengthAdjust="spacingAndGlyphs">BLK</text>
<text x="87.00" y="291.07" font-size="3.0" font-weight="bold" fill="#000" stroke="#000" stroke-width="0.2" textLength="5.20" lengthAdjust="spacingAndGlyphs">CLK</text>
<text x="85.60" y="296.68" font-size="3.0" font-weight="bold" fill="#000" stroke="#000" stroke-width="0.2" textLength="10.00" lengthAdjust="spacingAndGlyphs">BELDEN</text>
<text x="87.00" y="300.27" font-size="3.0" font-weight="bold" fill="#000" stroke="#000" stroke-width="0.2" textLength="8.00" lengthAdjust="spacingAndGlyphs">#8760</text>
<polygon points="109.10,292.88 110.60,291.38 112.10,292.88 110.60,294.38" stroke="#333" stroke-width="0.8" fill="#888"/>
<line x1="108.60" y1="292.88" x2="112.60" y2="292.88" stroke="#333" stroke-width="0.7"/>
<text x="107.50" y="289.88" font-size="3.0" font-weight="bold" fill="#000" stroke="#000" stroke-width="0.2" textLength="7.50" lengthAdjust="spacingAndGlyphs">1TO3</text>
<text x="110.00" y="285.88" font-size="3.0" font-weight="bold" fill="#000" stroke="#000" stroke-width="0.2" textLength="11.00" lengthAdjust="spacingAndGlyphs">#16 BLU</text>
<line x1="110.60" y1="292.88" x2="148.75" y2="292.88" stroke="#999" stroke-width="1.5"/>
<line x1="122.80" y1="285.18" x2="122.80" y2="292.88" stroke="#666" stroke-width="0.8"/>
<circle cx="122.80" cy="292.88" r="1.0" fill="#222"/>
<line x1="63.75" y1="300.38" x2="63.75" y2="302.88" stroke="#555" stroke-width="0.8"/>
<circle cx="63.75" cy="303.48" r="1.0" fill="#444"/>
<line x1="63.75" y1="304.38" x2="63.75" y2="306.88" stroke="#aaa" stroke-width="0.8"/>
<line x1="61.55" y1="306.88" x2="65.95" y2="306.88" stroke="#aaa" stroke-width="0.8"/>
<line x1="62.35" y1="307.98" x2="65.15" y2="307.98" stroke="#aaa" stroke-width="0.7"/>
<line x1="63.15" y1="308.98" x2="64.35" y2="308.98" stroke="#aaa" stroke-width="0.6"/>
<text x="67.00" y="305.68" font-size="3.0" font-weight="bold" fill="#000" stroke="#000" stroke-width="0.2" textLength="7.00" lengthAdjust="spacingAndGlyphs">SHLD</text>
<text x="108.00" y="302.48" font-size="3.0" font-weight="bold" fill="#000" stroke="#000" stroke-width="0.2" textLength="7.50" lengthAdjust="spacingAndGlyphs">1(3X)</text>
<circle cx="16.80" cy="330.28" r="1.3" fill="#333"/>
<line x1="16.80" y1="330.28" x2="44.40" y2="330.28" stroke="#8a8a8a" stroke-width="1.2" stroke-dasharray="2.3,1.2"/>
<line x1="44.40" y1="330.28" x2="51.25" y2="330.28" stroke="#8a8a8a" stroke-width="1.2" stroke-dasharray="2.3,1.2"/>
<line x1="76.25" y1="330.28" x2="83.10" y2="330.28" stroke="#8a8a8a" stroke-width="1.2" stroke-dasharray="2.3,1.2"/>
<line x1="83.10" y1="330.28" x2="110.60" y2="330.28" stroke="#8a8a8a" stroke-width="1.2" stroke-dasharray="2.3,1.2"/>
<rect x="51.25" y="325.68" width="25.00" height="9.10" stroke="#777" stroke-width="1.0" fill="none"/>
<polygon points="53.50,330.28 55.00,328.78 56.50,330.28 55.00,331.78" stroke="#333" stroke-width="0.8" fill="#888"/>
<line x1="53.00" y1="330.28" x2="57.00" y2="330.28" stroke="#333" stroke-width="0.7"/>
<polygon points="71.00,330.28 72.50,328.78 74.00,330.28 72.50,331.78" stroke="#333" stroke-width="0.8" fill="#888"/>
<line x1="70.50" y1="330.28" x2="74.50" y2="330.28" stroke="#333" stroke-width="0.7"/>
<polyline points="42.80,331.08 44.40,327.88 46.00,331.08 42.80,331.08" stroke="#777" stroke-width="0.6" fill="none"/>
<polyline points="81.50,331.08 83.10,327.88 84.70,331.08 81.50,331.08" stroke="#777" stroke-width="0.6" fill="none"/>
<polyline points="44.40,331.08 44.40,337.78 83.10,337.78 83.10,331.08" stroke="#888" stroke-width="1.0" fill="none"/>
<text x="56.00" y="324.28" font-size="3.1" font-weight="bold" fill="#000" stroke="#000" stroke-width="0.12" textLength="12.00" lengthAdjust="spacingAndGlyphs">1TO3M</text>
<rect x="70.30" y="322.28" width="2.0" height="2.0" fill="#111"/>
<circle cx="80" cy="322.48" r="2.4" stroke="#444" stroke-width="0.6" fill="none"/>
<text x="80.00" y="323.58" font-size="3.0" font-weight="normal" fill="#444" stroke="#444" stroke-width="0.08" text-anchor="middle">2</text>
<text x="36.00" y="328.48" font-size="3.0" font-weight="bold" fill="#000" stroke="#000" stroke-width="0.2" textLength="5.00" lengthAdjust="spacingAndGlyphs">BLK</text>
<text x="87.00" y="328.48" font-size="3.0" font-weight="bold" fill="#000" stroke="#000" stroke-width="0.2" textLength="5.20" lengthAdjust="spacingAndGlyphs">CLK</text>
<text x="85.60" y="334.08" font-size="3.0" font-weight="bold" fill="#000" stroke="#000" stroke-width="0.2" textLength="10.00" lengthAdjust="spacingAndGlyphs">BELDEN</text>
<text x="87.00" y="337.68" font-size="3.0" font-weight="bold" fill="#000" stroke="#000" stroke-width="0.2" textLength="8.00" lengthAdjust="spacingAndGlyphs">#8760</text>
<polygon points="109.10,330.28 110.60,328.78 112.10,330.28 110.60,331.78" stroke="#333" stroke-width="0.8" fill="#888"/>
<line x1="108.60" y1="330.28" x2="112.60" y2="330.28" stroke="#333" stroke-width="0.7"/>
<text x="107.50" y="327.28" font-size="3.0" font-weight="bold" fill="#000" stroke="#000" stroke-width="0.2" textLength="7.50" lengthAdjust="spacingAndGlyphs">1TO5</text>
<text x="110.00" y="323.28" font-size="3.0" font-weight="bold" fill="#000" stroke="#000" stroke-width="0.2" textLength="11.00" lengthAdjust="spacingAndGlyphs">#16 BLU</text>
<line x1="110.60" y1="330.28" x2="148.75" y2="330.28" stroke="#999" stroke-width="1.5"/>
<line x1="122.80" y1="322.58" x2="122.80" y2="330.28" stroke="#666" stroke-width="0.8"/>
<circle cx="122.80" cy="330.28" r="1.0" fill="#222"/>
<line x1="63.75" y1="337.78" x2="63.75" y2="340.28" stroke="#555" stroke-width="0.8"/>
<circle cx="63.75" cy="340.88" r="1.0" fill="#444"/>
<line x1="63.75" y1="341.78" x2="63.75" y2="344.28" stroke="#aaa" stroke-width="0.8"/>
<line x1="61.55" y1="344.28" x2="65.95" y2="344.28" stroke="#aaa" stroke-width="0.8"/>
<line x1="62.35" y1="345.38" x2="65.15" y2="345.38" stroke="#aaa" stroke-width="0.7"/>
<line x1="63.15" y1="346.38" x2="64.35" y2="346.38" stroke="#aaa" stroke-width="0.6"/>
<text x="67.00" y="343.08" font-size="3.0" font-weight="bold" fill="#000" stroke="#000" stroke-width="0.2" textLength="7.00" lengthAdjust="spacingAndGlyphs">SHLD</text>
<circle cx="148.60" cy="31.00" r="1.25" stroke="#333" stroke-width="0.7" fill="#666"/>
<text x="148.80" y="36.00" font-size="3.3" font-weight="bold" fill="#000" stroke="#000" stroke-width="0.2" text-anchor="middle" textLength="6.00" lengthAdjust="spacingAndGlyphs">UI1</text>
<circle cx="148.60" cy="49.71" r="1.25" stroke="#333" stroke-width="0.7" fill="#666"/>
<text x="148.80" y="54.71" font-size="3.3" font-weight="bold" fill="#000" stroke="#000" stroke-width="0.2" text-anchor="middle" textLength="6.00" lengthAdjust="spacingAndGlyphs">COM</text>
<circle cx="148.60" cy="68.41" r="1.25" stroke="#333" stroke-width="0.7" fill="#666"/>
<text x="148.80" y="73.41" font-size="3.3" font-weight="bold" fill="#000" stroke="#000" stroke-width="0.2" text-anchor="middle" textLength="6.00" lengthAdjust="spacingAndGlyphs">UI2</text>
<circle cx="148.60" cy="105.82" r="1.25" stroke="#333" stroke-width="0.7" fill="#666"/>
<text x="148.80" y="110.82" font-size="3.3" font-weight="bold" fill="#000" stroke="#000" stroke-width="0.2" text-anchor="middle" textLength="6.00" lengthAdjust="spacingAndGlyphs">UI3</text>
<circle cx="148.60" cy="124.53" r="1.25" stroke="#333" stroke-width="0.7" fill="#666"/>
<text x="148.80" y="129.53" font-size="3.3" font-weight="bold" fill="#000" stroke="#000" stroke-width="0.2" text-anchor="middle" textLength="6.00" lengthAdjust="spacingAndGlyphs">COM</text>
<circle cx="148.60" cy="143.24" r="1.25" stroke="#333" stroke-width="0.7" fill="#666"/>
<text x="148.80" y="148.24" font-size="3.3" font-weight="bold" fill="#000" stroke="#000" stroke-width="0.2" text-anchor="middle" textLength="6.00" lengthAdjust="spacingAndGlyphs">UI4</text>
<circle cx="148.60" cy="161.94" r="1.25" stroke="#333" stroke-width="0.7" fill="#666"/>
<text x="148.80" y="166.94" font-size="3.3" font-weight="bold" fill="#000" stroke="#000" stroke-width="0.2" text-anchor="middle" textLength="9.00" lengthAdjust="spacingAndGlyphs">12VDC</text>
<circle cx="148.60" cy="236.76" r="1.25" stroke="#333" stroke-width="0.7" fill="#666"/>
<text x="148.80" y="241.76" font-size="3.3" font-weight="bold" fill="#000" stroke="#000" stroke-width="0.2" text-anchor="middle" textLength="6.00" lengthAdjust="spacingAndGlyphs">UI5</text>
<circle cx="148.60" cy="255.46" r="1.25" stroke="#333" stroke-width="0.7" fill="#666"/>
<text x="148.80" y="260.46" font-size="3.3" font-weight="bold" fill="#000" stroke="#000" stroke-width="0.2" text-anchor="middle" textLength="6.00" lengthAdjust="spacingAndGlyphs">COM</text>
<circle cx="148.60" cy="274.17" r="1.25" stroke="#333" stroke-width="0.7" fill="#666"/>
<text x="148.80" y="279.17" font-size="3.3" font-weight="bold" fill="#000" stroke="#000" stroke-width="0.2" text-anchor="middle" textLength="6.00" lengthAdjust="spacingAndGlyphs">UI6</text>
<circle cx="148.60" cy="292.88" r="1.25" stroke="#333" stroke-width="0.7" fill="#666"/>
<text x="148.80" y="297.88" font-size="3.3" font-weight="bold" fill="#000" stroke="#000" stroke-width="0.2" text-anchor="middle" textLength="6.00" lengthAdjust="spacingAndGlyphs">UI7</text>
<circle cx="148.60" cy="311.58" r="1.25" stroke="#333" stroke-width="0.7" fill="#666"/>
<text x="148.80" y="316.58" font-size="3.3" font-weight="bold" fill="#000" stroke="#000" stroke-width="0.2" text-anchor="middle" textLength="6.00" lengthAdjust="spacingAndGlyphs">COM</text>
<circle cx="148.60" cy="330.28" r="1.25" stroke="#333" stroke-width="0.7" fill="#666"/>
<text x="148.80" y="335.28" font-size="3.3" font-weight="bold" fill="#000" stroke="#000" stroke-width="0.2" text-anchor="middle" textLength="6.00" lengthAdjust="spacingAndGlyphs">UI8</text>
<circle cx="148.60" cy="348.99" r="1.25" stroke="#333" stroke-width="0.7" fill="#666"/>
<text x="148.80" y="353.99" font-size="3.3" font-weight="bold" fill="#000" stroke="#000" stroke-width="0.2" text-anchor="middle" textLength="9.00" lengthAdjust="spacingAndGlyphs">12VDC</text>
<circle cx="349.50" cy="49.71" r="1.25" stroke="#333" stroke-width="0.7" fill="#666"/>
<text x="349.70" y="54.71" font-size="3.3" font-weight="bold" fill="#000" stroke="#000" stroke-width="0.1" text-anchor="middle" textLength="6.00" lengthAdjust="spacingAndGlyphs">UO1</text>
<circle cx="349.50" cy="68.41" r="1.25" stroke="#333" stroke-width="0.7" fill="#666"/>
<text x="349.70" y="73.41" font-size="3.3" font-weight="bold" fill="#000" stroke="#000" stroke-width="0.1" text-anchor="middle" textLength="6.00" lengthAdjust="spacingAndGlyphs">COM</text>
<circle cx="349.50" cy="87.12" r="1.25" stroke="#333" stroke-width="0.7" fill="#666"/>
<text x="349.70" y="92.12" font-size="3.3" font-weight="bold" fill="#000" stroke="#000" stroke-width="0.1" text-anchor="middle" textLength="6.00" lengthAdjust="spacingAndGlyphs">UO2</text>
<circle cx="349.50" cy="105.82" r="1.25" stroke="#333" stroke-width="0.7" fill="#666"/>
<text x="349.70" y="110.82" font-size="3.3" font-weight="bold" fill="#000" stroke="#000" stroke-width="0.1" text-anchor="middle" textLength="6.00" lengthAdjust="spacingAndGlyphs">COM</text>
<circle cx="349.50" cy="124.53" r="1.25" stroke="#333" stroke-width="0.7" fill="#666"/>
<text x="349.70" y="129.53" font-size="3.3" font-weight="bold" fill="#000" stroke="#000" stroke-width="0.1" text-anchor="middle" textLength="6.00" lengthAdjust="spacingAndGlyphs">UO3</text>
<circle cx="349.50" cy="143.24" r="1.25" stroke="#333" stroke-width="0.7" fill="#666"/>
<text x="349.70" y="148.24" font-size="3.3" font-weight="bold" fill="#000" stroke="#000" stroke-width="0.1" text-anchor="middle" textLength="6.00" lengthAdjust="spacingAndGlyphs">COM</text>
<circle cx="349.50" cy="255.46" r="1.25" stroke="#333" stroke-width="0.7" fill="#666"/>
<text x="349.70" y="260.46" font-size="3.3" font-weight="bold" fill="#000" stroke="#000" stroke-width="0.1" text-anchor="middle" textLength="6.00" lengthAdjust="spacingAndGlyphs">UO4</text>
<circle cx="349.50" cy="274.17" r="1.25" stroke="#333" stroke-width="0.7" fill="#666"/>
<text x="349.70" y="279.17" font-size="3.3" font-weight="bold" fill="#000" stroke="#000" stroke-width="0.1" text-anchor="middle" textLength="6.00" lengthAdjust="spacingAndGlyphs">COM</text>
<circle cx="349.50" cy="292.88" r="1.25" stroke="#333" stroke-width="0.7" fill="#666"/>
<text x="349.70" y="297.88" font-size="3.3" font-weight="bold" fill="#000" stroke="#000" stroke-width="0.1" text-anchor="middle" textLength="6.00" lengthAdjust="spacingAndGlyphs">UO5</text>
<circle cx="349.50" cy="311.58" r="1.25" stroke="#333" stroke-width="0.7" fill="#666"/>
<text x="349.70" y="316.58" font-size="3.3" font-weight="bold" fill="#000" stroke="#000" stroke-width="0.1" text-anchor="middle" textLength="6.00" lengthAdjust="spacingAndGlyphs">COM</text>
<circle cx="349.50" cy="330.28" r="1.25" stroke="#333" stroke-width="0.7" fill="#666"/>
<text x="349.70" y="335.28" font-size="3.3" font-weight="bold" fill="#000" stroke="#000" stroke-width="0.1" text-anchor="middle" textLength="6.00" lengthAdjust="spacingAndGlyphs">UO6</text>
<circle cx="349.50" cy="348.99" r="1.25" stroke="#333" stroke-width="0.7" fill="#666"/>
<text x="349.70" y="353.99" font-size="3.3" font-weight="bold" fill="#000" stroke="#000" stroke-width="0.1" text-anchor="middle" textLength="6.00" lengthAdjust="spacingAndGlyphs">COM</text>
<text x="209.40" y="32.30" font-size="3.3" font-weight="normal" fill="#000" stroke="#000" stroke-width="0.14" textLength="18.30" lengthAdjust="spacingAndGlyphs">OUTSIDE AIR</text>
<text x="209.40" y="36.60" font-size="3.3" font-weight="normal" fill="#000" stroke="#000" stroke-width="0.14" textLength="13.00" lengthAdjust="spacingAndGlyphs">HUMIDITY</text>
<text x="209.40" y="40.90" font-size="3.3" font-weight="normal" fill="#000" stroke="#000" stroke-width="0.14" textLength="15.00" lengthAdjust="spacingAndGlyphs">(4-20mA)</text>
<text x="209.40" y="64.40" font-size="3.3" font-weight="normal" fill="#000" stroke="#000" stroke-width="0.14" textLength="26.70" lengthAdjust="spacingAndGlyphs">OUTSIDE AIR TEMP</text>
<text x="209.40" y="68.70" font-size="3.3" font-weight="normal" fill="#000" stroke="#000" stroke-width="0.14" textLength="27.70" lengthAdjust="spacingAndGlyphs">10K-II THERMISTOR</text>
<text x="209.40" y="100.20" font-size="3.3" font-weight="normal" fill="#000" stroke="#000" stroke-width="0.14" textLength="26.20" lengthAdjust="spacingAndGlyphs">RETURN AIR TEMP</text>
<text x="209.40" y="104.50" font-size="3.3" font-weight="normal" fill="#000" stroke="#000" stroke-width="0.14" textLength="27.70" lengthAdjust="spacingAndGlyphs">10K-II THERMISTOR</text>
<text x="209.40" y="143.70" font-size="3.3" font-weight="normal" fill="#000" stroke="#000" stroke-width="0.14" textLength="23.50" lengthAdjust="spacingAndGlyphs">MIXED AIR TEMP</text>
<text x="209.40" y="148.00" font-size="3.3" font-weight="normal" fill="#000" stroke="#000" stroke-width="0.14" textLength="14.50" lengthAdjust="spacingAndGlyphs">AVERAGING</text>
<text x="209.40" y="152.30" font-size="3.3" font-weight="normal" fill="#000" stroke="#000" stroke-width="0.14" textLength="27.70" lengthAdjust="spacingAndGlyphs">10K-II THERMISTOR</text>
<text x="209.40" y="236.70" font-size="3.3" font-weight="normal" fill="#000" stroke="#000" stroke-width="0.14" textLength="30.00" lengthAdjust="spacingAndGlyphs">DISCHARGE AIR TEMP</text>
<text x="209.40" y="241.00" font-size="3.3" font-weight="normal" fill="#000" stroke="#000" stroke-width="0.14" textLength="27.70" lengthAdjust="spacingAndGlyphs">10K-II THERMISTOR</text>
<text x="209.40" y="275.70" font-size="3.3" font-weight="normal" fill="#000" stroke="#000" stroke-width="0.14" textLength="8.50" lengthAdjust="spacingAndGlyphs">FILTER</text>
<text x="209.40" y="280.00" font-size="3.3" font-weight="normal" fill="#000" stroke="#000" stroke-width="0.14" textLength="35.50" lengthAdjust="spacingAndGlyphs">DIFFERENTIAL PRESSURE</text>
<text x="209.40" y="284.30" font-size="3.3" font-weight="normal" fill="#000" stroke="#000" stroke-width="0.14" textLength="15.00" lengthAdjust="spacingAndGlyphs">(4-20mA)</text>
<text x="209.40" y="294.20" font-size="3.3" font-weight="normal" fill="#000" stroke="#000" stroke-width="0.14" textLength="24.00" lengthAdjust="spacingAndGlyphs">RETURN AIR CO2</text>
<text x="209.40" y="298.50" font-size="3.3" font-weight="normal" fill="#000" stroke="#000" stroke-width="0.14" textLength="10.50" lengthAdjust="spacingAndGlyphs">SENSOR</text>
<text x="209.40" y="331.70" font-size="3.3" font-weight="normal" fill="#000" stroke="#000" stroke-width="0.14" textLength="17.00" lengthAdjust="spacingAndGlyphs">SPACE CO2</text>
<text x="209.40" y="336.00" font-size="3.3" font-weight="normal" fill="#000" stroke="#000" stroke-width="0.14" textLength="10.50" lengthAdjust="spacingAndGlyphs">SENSOR</text>
<rect x="122.20" y="385.0" width="5.0" height="5.0" fill="#111"/>
<rect x="122.20" y="385.00" width="5.00" height="9.80" stroke="#444" stroke-width="0.8" fill="none"/>
<text x="124.70" y="383.90" font-size="2.8" font-weight="bold" fill="#333" stroke="#333" stroke-width="0.1" text-anchor="middle">1</text>
<text x="124.70" y="398.90" font-size="3.0" font-weight="bold" fill="#000" stroke="#000" stroke-width="0.15" text-anchor="middle" textLength="3.40" lengthAdjust="spacingAndGlyphs">UP</text>
<rect x="129.10" y="390.0" width="5.0" height="5.0" fill="#111"/>
<rect x="129.10" y="385.00" width="5.00" height="9.80" stroke="#444" stroke-width="0.8" fill="none"/>
<text x="131.60" y="383.90" font-size="2.8" font-weight="bold" fill="#333" stroke="#333" stroke-width="0.1" text-anchor="middle">2</text>
<text x="131.60" y="398.90" font-size="3.0" font-weight="bold" fill="#000" stroke="#000" stroke-width="0.15" text-anchor="middle" textLength="5.00" lengthAdjust="spacingAndGlyphs">DWN</text>
<rect x="136.00" y="390.0" width="5.0" height="5.0" fill="#111"/>
<rect x="136.00" y="385.00" width="5.00" height="9.80" stroke="#444" stroke-width="0.8" fill="none"/>
<text x="138.50" y="383.90" font-size="2.8" font-weight="bold" fill="#333" stroke="#333" stroke-width="0.1" text-anchor="middle">3</text>
<text x="138.50" y="398.90" font-size="3.0" font-weight="bold" fill="#000" stroke="#000" stroke-width="0.15" text-anchor="middle" textLength="5.00" lengthAdjust="spacingAndGlyphs">DWN</text>
<rect x="142.90" y="390.0" width="5.0" height="5.0" fill="#111"/>
<rect x="142.90" y="385.00" width="5.00" height="9.80" stroke="#444" stroke-width="0.8" fill="none"/>
<text x="145.40" y="383.90" font-size="2.8" font-weight="bold" fill="#333" stroke="#333" stroke-width="0.1" text-anchor="middle">4</text>
<text x="145.40" y="398.90" font-size="3.0" font-weight="bold" fill="#000" stroke="#000" stroke-width="0.15" text-anchor="middle" textLength="5.00" lengthAdjust="spacingAndGlyphs">DWN</text>
<rect x="149.80" y="390.0" width="5.0" height="5.0" fill="#111"/>
<rect x="149.80" y="385.00" width="5.00" height="9.80" stroke="#444" stroke-width="0.8" fill="none"/>
<text x="152.30" y="383.90" font-size="2.8" font-weight="bold" fill="#333" stroke="#333" stroke-width="0.1" text-anchor="middle">5</text>
<text x="152.30" y="398.90" font-size="3.0" font-weight="bold" fill="#000" stroke="#000" stroke-width="0.15" text-anchor="middle" textLength="5.00" lengthAdjust="spacingAndGlyphs">DWN</text>
<rect x="156.70" y="385.0" width="5.0" height="5.0" fill="#111"/>
<rect x="156.70" y="385.00" width="5.00" height="9.80" stroke="#444" stroke-width="0.8" fill="none"/>
<text x="159.20" y="383.90" font-size="2.8" font-weight="bold" fill="#333" stroke="#333" stroke-width="0.1" text-anchor="middle">6</text>
<text x="159.20" y="398.90" font-size="3.0" font-weight="bold" fill="#000" stroke="#000" stroke-width="0.15" text-anchor="middle" textLength="3.40" lengthAdjust="spacingAndGlyphs">UP</text>
<rect x="163.60" y="385.0" width="5.0" height="5.0" fill="#111"/>
<rect x="163.60" y="385.00" width="5.00" height="9.80" stroke="#444" stroke-width="0.8" fill="none"/>
<text x="166.10" y="383.90" font-size="2.8" font-weight="bold" fill="#333" stroke="#333" stroke-width="0.1" text-anchor="middle">7</text>
<text x="166.10" y="398.90" font-size="3.0" font-weight="bold" fill="#000" stroke="#000" stroke-width="0.15" text-anchor="middle" textLength="3.40" lengthAdjust="spacingAndGlyphs">UP</text>
<rect x="170.50" y="385.0" width="5.0" height="5.0" fill="#111"/>
<rect x="170.50" y="385.00" width="5.00" height="9.80" stroke="#444" stroke-width="0.8" fill="none"/>
<text x="173.00" y="383.90" font-size="2.8" font-weight="bold" fill="#333" stroke="#333" stroke-width="0.1" text-anchor="middle">8</text>
<text x="173.00" y="398.90" font-size="3.0" font-weight="bold" fill="#000" stroke="#000" stroke-width="0.15" text-anchor="middle" textLength="3.40" lengthAdjust="spacingAndGlyphs">UP</text>
<rect x="340.50" y="385.0" width="5.0" height="5.0" fill="#111"/>
<rect x="340.50" y="385.00" width="5.00" height="9.80" stroke="#444" stroke-width="0.8" fill="none"/>
<text x="343.00" y="383.90" font-size="2.8" font-weight="bold" fill="#333" stroke="#333" stroke-width="0.1" text-anchor="middle">1</text>
<text x="343.00" y="398.90" font-size="3.0" font-weight="bold" fill="#000" stroke="#000" stroke-width="0.15" text-anchor="middle" textLength="3.40" lengthAdjust="spacingAndGlyphs">UP</text>
<rect x="347.40" y="390.0" width="5.0" height="5.0" fill="#111"/>
<rect x="347.40" y="385.00" width="5.00" height="9.80" stroke="#444" stroke-width="0.8" fill="none"/>
<text x="349.90" y="383.90" font-size="2.8" font-weight="bold" fill="#333" stroke="#333" stroke-width="0.1" text-anchor="middle">2</text>
<text x="349.90" y="398.90" font-size="3.0" font-weight="bold" fill="#000" stroke="#000" stroke-width="0.15" text-anchor="middle" textLength="5.00" lengthAdjust="spacingAndGlyphs">DWN</text>
<rect x="354.30" y="390.0" width="5.0" height="5.0" fill="#111"/>
<rect x="354.30" y="385.00" width="5.00" height="9.80" stroke="#444" stroke-width="0.8" fill="none"/>
<text x="356.80" y="383.90" font-size="2.8" font-weight="bold" fill="#333" stroke="#333" stroke-width="0.1" text-anchor="middle">3</text>
<text x="356.80" y="398.90" font-size="3.0" font-weight="bold" fill="#000" stroke="#000" stroke-width="0.15" text-anchor="middle" textLength="5.00" lengthAdjust="spacingAndGlyphs">DWN</text>
<line x1="595.00" y1="0.00" x2="595.00" y2="21.90" stroke="#555" stroke-width="1.1"/>
<text x="545.60" y="1.30" font-family="Liberation Mono" font-size="3.4" font-weight="normal" fill="#000" stroke="#000" stroke-width="0.15" textLength="22.00" lengthAdjust="spacingAndGlyphs">KEY NOTES</text>
<line x1="545.60" y1="2.20" x2="567.50" y2="2.20" stroke="#444" stroke-width="0.5"/>
<circle cx="545.4" cy="7.75" r="2.6" stroke="#333" stroke-width="0.55" fill="none"/>
<text x="545.40" y="8.90" font-family="Liberation Mono" font-size="3.0" font-weight="normal" fill="#333" stroke="#333" stroke-width="0.05" text-anchor="middle">1</text>
<circle cx="545.4" cy="17.0" r="2.6" stroke="#333" stroke-width="0.55" fill="none"/>
<text x="545.40" y="18.10" font-family="Liberation Mono" font-size="3.0" font-weight="normal" fill="#333" stroke="#333" stroke-width="0.05" text-anchor="middle">2</text>
<text x="550.60" y="7.30" font-family="Liberation Mono" font-size="3.5" font-weight="normal" fill="#000" stroke="#000" stroke-width="0.14" textLength="34.40" lengthAdjust="spacingAndGlyphs">12 VOLT CONTROL</text>
<text x="550.60" y="11.30" font-family="Liberation Mono" font-size="3.5" font-weight="normal" fill="#000" stroke="#000" stroke-width="0.14" textLength="40.40" lengthAdjust="spacingAndGlyphs">RELAY, 700-HK TYPE</text>
<text x="550.60" y="18.80" font-family="Liberation Mono" font-size="3.5" font-weight="normal" fill="#000" stroke="#000" stroke-width="0.14" textLength="41.90" lengthAdjust="spacingAndGlyphs">PROVIDED BY OTHERS</text>
<rect x="601.30" y="390.80" width="45.00" height="24.70" stroke="#888" stroke-width="1.0" fill="none"/>
<rect x="611" y="386.5" width="28" height="4.5" fill="#fff"/>
<line x1="611.50" y1="389.00" x2="614.80" y2="389.00" stroke="#555" stroke-width="0.9"/>
<line x1="634.50" y1="389.00" x2="638.50" y2="389.00" stroke="#555" stroke-width="0.9"/>
<text x="624.60" y="390.50" font-family="Liberation Mono" font-size="3.5" font-weight="normal" fill="#000" stroke="#000" stroke-width="0.18" text-anchor="middle" textLength="19.50" lengthAdjust="spacingAndGlyphs">[LEGEND]</text>
<polygon points="601.8,395 604,391.8 606.2,395" fill="#111"/>
<text x="608.00" y="394.70" font-family="Liberation Mono" font-size="3.5" font-weight="normal" fill="#000" stroke="#000" stroke-width="0.18" textLength="9.00" lengthAdjust="spacingAndGlyphs">NODE</text>
<rect x="602.8" y="397" width="2.2" height="2.2" fill="#111"/>
<text x="608.00" y="399.60" font-family="Liberation Mono" font-size="3.5" font-weight="normal" fill="#000" stroke="#000" stroke-width="0.18" textLength="27.60" lengthAdjust="spacingAndGlyphs">FIELD DEVICE</text>
<circle cx="603.6" cy="402.5" r="1.1" fill="#333"/>
<text x="608.00" y="404.10" font-family="Liberation Mono" font-size="3.5" font-weight="normal" fill="#000" stroke="#000" stroke-width="0.18" textLength="17.60" lengthAdjust="spacingAndGlyphs">TERMINAL</text>
<line x1="330.00" y1="417.50" x2="640.00" y2="417.50" stroke="#999" stroke-width="1.0"/>
</svg>
</body></html>
